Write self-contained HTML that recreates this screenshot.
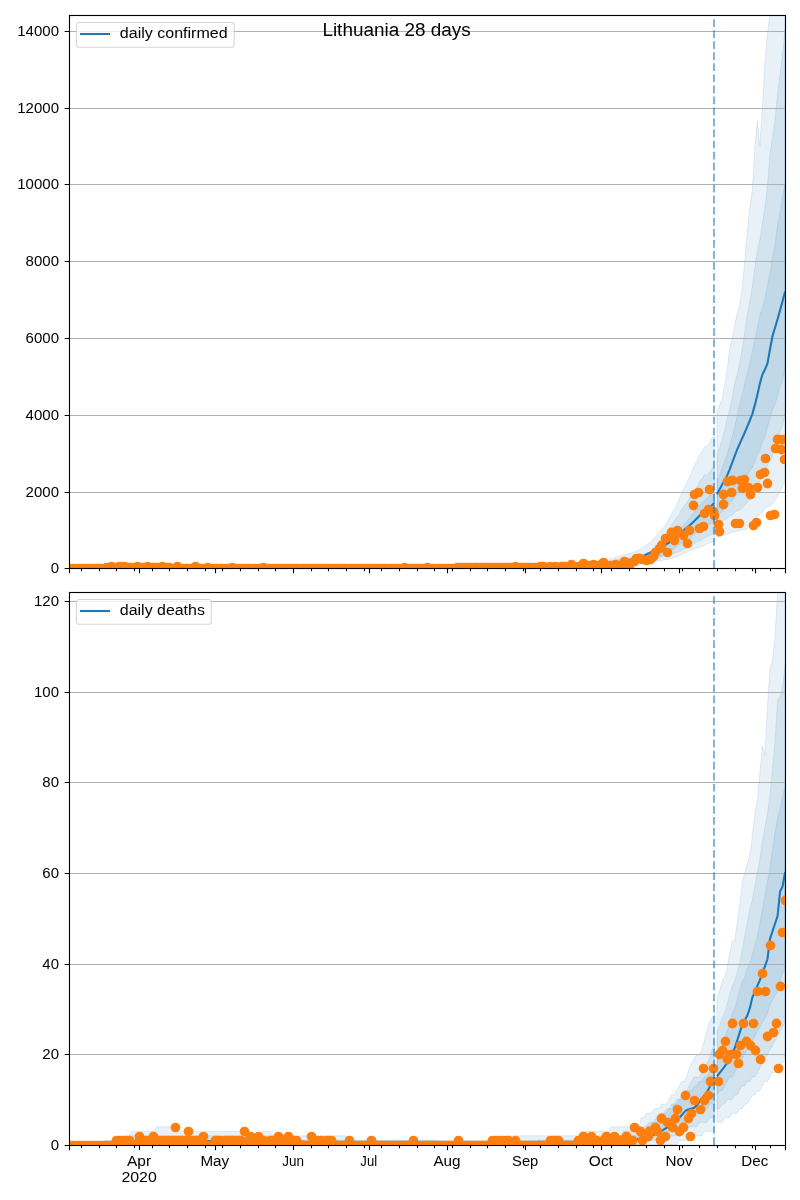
<!DOCTYPE html><html><head><meta charset="utf-8"><style>html,body{margin:0;padding:0;background:#fff;width:800px;height:1200px;overflow:hidden}svg{display:block;will-change:transform}text{font-family:"Liberation Sans",sans-serif;fill:#000}</style></head><body>
<svg width="800" height="1200" viewBox="0 0 800 1200">
<rect width="800" height="1200" fill="#fff"/>
<clipPath id="ct"><rect x="69.5" y="15.5" width="716.0" height="553.0"/></clipPath>
<g clip-path="url(#ct)">
<path d="M68.5,568.36 L70.96,568.36 L73.49,568.36 L76.01,568.36 L78.53,568.36 L81.06,568.36 L83.58,568.36 L86.1,568.36 L88.63,568.36 L91.15,568.36 L93.68,568.36 L96.2,568.36 L98.72,568.36 L101.25,568.36 L103.77,568.36 L106.29,568.36 L108.82,568.36 L111.34,568.36 L113.86,568.36 L116.39,568.36 L118.91,568.36 L121.43,568.36 L123.96,568.36 L126.48,568.36 L129,568.36 L131.53,568.36 L134.05,568.36 L136.57,568.36 L139.1,568.36 L141.62,568.36 L144.15,568.36 L146.67,568.36 L149.19,568.36 L151.72,568.36 L154.24,568.36 L156.76,568.36 L159.29,568.36 L161.81,568.36 L164.33,568.36 L166.86,568.36 L169.38,568.36 L171.9,568.36 L174.43,568.36 L176.95,568.36 L179.47,568.36 L182,568.36 L184.52,568.36 L187.04,568.36 L189.57,568.36 L192.09,568.36 L194.62,568.36 L197.14,568.36 L199.66,568.36 L202.19,568.36 L204.71,568.36 L207.23,568.36 L209.76,568.36 L212.28,568.36 L214.8,568.36 L217.33,568.36 L219.85,568.36 L222.37,568.36 L224.9,568.36 L227.42,568.36 L229.94,568.36 L232.47,568.36 L234.99,568.36 L237.51,568.36 L240.04,568.36 L242.56,568.36 L245.09,568.36 L247.61,568.36 L250.13,568.36 L252.66,568.36 L255.18,568.36 L257.7,568.36 L260.23,568.36 L262.75,568.36 L265.27,568.36 L267.8,568.36 L270.32,568.36 L272.84,568.36 L275.37,568.36 L277.89,568.36 L280.41,568.36 L282.94,568.36 L285.46,568.36 L287.98,568.36 L290.51,568.36 L293.03,568.36 L295.56,568.36 L298.08,568.36 L300.6,568.36 L303.13,568.36 L305.65,568.36 L308.17,568.36 L310.7,568.36 L313.22,568.36 L315.74,568.36 L318.27,568.36 L320.79,568.36 L323.31,568.36 L325.84,568.36 L328.36,568.36 L330.88,568.36 L333.41,568.36 L335.93,568.36 L338.45,568.36 L340.98,568.36 L343.5,568.36 L346.03,568.36 L348.55,568.36 L351.07,568.36 L353.6,568.36 L356.12,568.36 L358.64,568.36 L361.17,568.36 L363.69,568.36 L366.21,568.36 L368.74,568.36 L371.26,568.36 L373.78,568.36 L376.31,568.36 L378.83,568.36 L381.35,568.36 L383.88,568.36 L386.4,568.36 L388.92,568.36 L391.45,568.36 L393.97,568.36 L396.5,568.36 L399.02,568.36 L401.54,568.35 L404.07,568.35 L406.59,568.35 L409.11,568.34 L411.64,568.34 L414.16,568.34 L416.68,568.33 L419.21,568.33 L421.73,568.32 L424.25,568.32 L426.78,568.31 L429.3,568.31 L431.82,568.3 L434.35,568.29 L436.87,568.29 L439.39,568.28 L441.92,568.27 L444.44,568.26 L446.97,568.25 L449.49,568.24 L452.01,568.23 L454.54,568.22 L457.06,568.21 L459.58,568.2 L462.11,568.19 L464.63,568.17 L467.15,568.15 L469.68,568.13 L472.2,568.12 L474.72,568.1 L477.25,568.08 L479.77,568.06 L482.29,568.04 L484.82,568.01 L487.34,567.99 L489.86,567.95 L492.39,567.93 L494.91,567.9 L497.44,567.85 L499.96,567.83 L502.48,567.79 L505.01,567.74 L507.53,567.71 L510.05,567.64 L512.58,567.61 L515.1,567.56 L517.62,567.5 L520.15,567.44 L522.67,567.37 L525.19,567.31 L527.72,567.22 L530.24,567.18 L532.76,567.07 L535.29,566.98 L537.81,566.86 L540.34,566.81 L542.86,566.68 L545.38,566.57 L547.91,566.44 L550.43,566.29 L552.95,566.15 L555.48,565.98 L558,565.86 L560.52,565.67 L563.05,565.46 L565.57,565.27 L568.09,565.1 L570.62,564.83 L573.14,564.66 L575.66,564.31 L578.19,564.1 L580.71,563.82 L583.23,563.5 L585.76,563.14 L588.28,562.74 L590.8,562.46 L593.33,562.07 L595.85,561.59 L598.38,561.23 L600.9,560.8 L603.42,560.11 L605.95,559.64 L608.47,558.93 L610.99,558.52 L613.52,558.13 L616.04,557.23 L618.56,556.6 L621.09,555.76 L623.61,555.17 L626.13,554.44 L628.66,553.61 L631.18,552.96 L633.7,552.09 L636.23,551.46 L638.75,550.27 L641.27,549.17 L643.8,547.27 L646.32,545.03 L648.85,542.76 L651.37,540.98 L653.89,537.9 L656.42,536.12 L658.94,533 L661.46,530.03 L663.99,527.11 L666.51,523.48 L669.03,518.57 L671.56,514.34 L674.08,509.54 L676.6,505.35 L679.13,499.26 L681.65,492.72 L684.17,487.67 L686.7,483.22 L689.22,477.77 L691.75,471.94 L694.27,465.68 L696.79,461.03 L699.32,455.22 L701.84,452.24 L704.36,447.37 L706.89,445.95 L709.41,442.93 L711.93,437.73 L714.46,436.76 L714.46,540.53 L711.93,541.76 L709.41,543.06 L706.89,544.01 L704.36,545.37 L701.84,546.51 L699.32,547.44 L696.79,548.14 L694.27,549.02 L691.75,549.64 L689.22,550.78 L686.7,552.23 L684.17,553.42 L681.65,554.6 L679.13,555.63 L676.6,556.58 L674.08,557.13 L671.56,558.26 L669.03,559.04 L666.51,559.54 L663.99,560.07 L661.46,560.59 L658.94,560.89 L656.42,561.39 L653.89,561.68 L651.37,562.16 L648.85,562.58 L646.32,562.83 L643.8,563.19 L641.27,563.48 L638.75,563.77 L636.23,564.03 L633.7,564.3 L631.18,564.5 L628.66,564.72 L626.13,564.96 L623.61,565.2 L621.09,565.38 L618.56,565.54 L616.04,565.68 L613.52,565.89 L610.99,566.06 L608.47,566.21 L605.95,566.34 L603.42,566.5 L600.9,566.61 L598.38,566.73 L595.85,566.84 L593.33,566.95 L590.8,567.04 L588.28,567.13 L585.76,567.22 L583.23,567.31 L580.71,567.38 L578.19,567.45 L575.66,567.5 L573.14,567.57 L570.62,567.62 L568.09,567.69 L565.57,567.73 L563.05,567.77 L560.52,567.82 L558,567.86 L555.48,567.9 L552.95,567.93 L550.43,567.96 L547.91,567.99 L545.38,568.02 L542.86,568.04 L540.34,568.07 L537.81,568.09 L535.29,568.11 L532.76,568.13 L530.24,568.15 L527.72,568.16 L525.19,568.18 L522.67,568.19 L520.15,568.21 L517.62,568.22 L515.1,568.23 L512.58,568.24 L510.05,568.26 L507.53,568.26 L505.01,568.27 L502.48,568.28 L499.96,568.29 L497.44,568.3 L494.91,568.3 L492.39,568.31 L489.86,568.32 L487.34,568.32 L484.82,568.33 L482.29,568.33 L479.77,568.34 L477.25,568.34 L474.72,568.35 L472.2,568.35 L469.68,568.35 L467.15,568.36 L464.63,568.36 L462.11,568.36 L459.58,568.36 L457.06,568.36 L454.54,568.36 L452.01,568.36 L449.49,568.36 L446.97,568.36 L444.44,568.36 L441.92,568.36 L439.39,568.36 L436.87,568.36 L434.35,568.36 L431.82,568.36 L429.3,568.36 L426.78,568.36 L424.25,568.36 L421.73,568.36 L419.21,568.36 L416.68,568.36 L414.16,568.36 L411.64,568.36 L409.11,568.36 L406.59,568.36 L404.07,568.36 L401.54,568.36 L399.02,568.36 L396.5,568.36 L393.97,568.36 L391.45,568.36 L388.92,568.36 L386.4,568.36 L383.88,568.36 L381.35,568.36 L378.83,568.36 L376.31,568.36 L373.78,568.36 L371.26,568.36 L368.74,568.36 L366.21,568.36 L363.69,568.36 L361.17,568.36 L358.64,568.36 L356.12,568.36 L353.6,568.36 L351.07,568.36 L348.55,568.36 L346.03,568.36 L343.5,568.36 L340.98,568.36 L338.45,568.36 L335.93,568.36 L333.41,568.36 L330.88,568.36 L328.36,568.36 L325.84,568.36 L323.31,568.36 L320.79,568.36 L318.27,568.36 L315.74,568.36 L313.22,568.36 L310.7,568.36 L308.17,568.36 L305.65,568.36 L303.13,568.36 L300.6,568.36 L298.08,568.36 L295.56,568.36 L293.03,568.36 L290.51,568.36 L287.98,568.36 L285.46,568.36 L282.94,568.36 L280.41,568.36 L277.89,568.36 L275.37,568.36 L272.84,568.36 L270.32,568.36 L267.8,568.36 L265.27,568.36 L262.75,568.36 L260.23,568.36 L257.7,568.36 L255.18,568.36 L252.66,568.36 L250.13,568.36 L247.61,568.36 L245.09,568.36 L242.56,568.36 L240.04,568.36 L237.51,568.36 L234.99,568.36 L232.47,568.36 L229.94,568.36 L227.42,568.36 L224.9,568.36 L222.37,568.36 L219.85,568.36 L217.33,568.36 L214.8,568.36 L212.28,568.36 L209.76,568.36 L207.23,568.36 L204.71,568.36 L202.19,568.36 L199.66,568.36 L197.14,568.36 L194.62,568.36 L192.09,568.36 L189.57,568.36 L187.04,568.36 L184.52,568.36 L182,568.36 L179.47,568.36 L176.95,568.36 L174.43,568.36 L171.9,568.36 L169.38,568.36 L166.86,568.36 L164.33,568.36 L161.81,568.36 L159.29,568.36 L156.76,568.36 L154.24,568.36 L151.72,568.36 L149.19,568.36 L146.67,568.36 L144.15,568.36 L141.62,568.36 L139.1,568.36 L136.57,568.36 L134.05,568.36 L131.53,568.36 L129,568.36 L126.48,568.36 L123.96,568.36 L121.43,568.36 L118.91,568.36 L116.39,568.36 L113.86,568.36 L111.34,568.36 L108.82,568.36 L106.29,568.36 L103.77,568.36 L101.25,568.36 L98.72,568.36 L96.2,568.36 L93.68,568.36 L91.15,568.36 L88.63,568.36 L86.1,568.36 L83.58,568.36 L81.06,568.36 L78.53,568.36 L76.01,568.36 L73.49,568.36 L70.96,568.36 L68.5,568.36 Z" fill="rgba(31,119,180,0.1)" stroke="rgba(31,119,180,0.12)" stroke-width="1"/>
<path d="M68.5,568.36 L70.96,568.36 L73.49,568.36 L76.01,568.36 L78.53,568.36 L81.06,568.36 L83.58,568.36 L86.1,568.36 L88.63,568.36 L91.15,568.36 L93.68,568.36 L96.2,568.36 L98.72,568.36 L101.25,568.36 L103.77,568.36 L106.29,568.36 L108.82,568.36 L111.34,568.36 L113.86,568.36 L116.39,568.36 L118.91,568.36 L121.43,568.36 L123.96,568.36 L126.48,568.36 L129,568.36 L131.53,568.36 L134.05,568.36 L136.57,568.36 L139.1,568.36 L141.62,568.36 L144.15,568.36 L146.67,568.36 L149.19,568.36 L151.72,568.36 L154.24,568.36 L156.76,568.36 L159.29,568.36 L161.81,568.36 L164.33,568.36 L166.86,568.36 L169.38,568.36 L171.9,568.36 L174.43,568.36 L176.95,568.36 L179.47,568.36 L182,568.36 L184.52,568.36 L187.04,568.36 L189.57,568.36 L192.09,568.36 L194.62,568.36 L197.14,568.36 L199.66,568.36 L202.19,568.36 L204.71,568.36 L207.23,568.36 L209.76,568.36 L212.28,568.36 L214.8,568.36 L217.33,568.36 L219.85,568.36 L222.37,568.36 L224.9,568.36 L227.42,568.36 L229.94,568.36 L232.47,568.36 L234.99,568.36 L237.51,568.36 L240.04,568.36 L242.56,568.36 L245.09,568.36 L247.61,568.36 L250.13,568.36 L252.66,568.36 L255.18,568.36 L257.7,568.36 L260.23,568.36 L262.75,568.36 L265.27,568.36 L267.8,568.36 L270.32,568.36 L272.84,568.36 L275.37,568.36 L277.89,568.36 L280.41,568.36 L282.94,568.36 L285.46,568.36 L287.98,568.36 L290.51,568.36 L293.03,568.36 L295.56,568.36 L298.08,568.36 L300.6,568.36 L303.13,568.36 L305.65,568.36 L308.17,568.36 L310.7,568.36 L313.22,568.36 L315.74,568.36 L318.27,568.36 L320.79,568.36 L323.31,568.36 L325.84,568.36 L328.36,568.36 L330.88,568.36 L333.41,568.36 L335.93,568.36 L338.45,568.36 L340.98,568.36 L343.5,568.36 L346.03,568.36 L348.55,568.36 L351.07,568.36 L353.6,568.36 L356.12,568.36 L358.64,568.36 L361.17,568.36 L363.69,568.36 L366.21,568.36 L368.74,568.36 L371.26,568.36 L373.78,568.36 L376.31,568.36 L378.83,568.36 L381.35,568.36 L383.88,568.36 L386.4,568.36 L388.92,568.36 L391.45,568.36 L393.97,568.36 L396.5,568.36 L399.02,568.36 L401.54,568.36 L404.07,568.36 L406.59,568.36 L409.11,568.36 L411.64,568.35 L414.16,568.35 L416.68,568.35 L419.21,568.34 L421.73,568.34 L424.25,568.34 L426.78,568.33 L429.3,568.33 L431.82,568.32 L434.35,568.32 L436.87,568.31 L439.39,568.31 L441.92,568.3 L444.44,568.29 L446.97,568.28 L449.49,568.28 L452.01,568.27 L454.54,568.26 L457.06,568.25 L459.58,568.24 L462.11,568.23 L464.63,568.22 L467.15,568.21 L469.68,568.2 L472.2,568.18 L474.72,568.17 L477.25,568.15 L479.77,568.13 L482.29,568.12 L484.82,568.1 L487.34,568.08 L489.86,568.05 L492.39,568.03 L494.91,568 L497.44,567.98 L499.96,567.95 L502.48,567.92 L505.01,567.88 L507.53,567.85 L510.05,567.83 L512.58,567.77 L515.1,567.74 L517.62,567.69 L520.15,567.64 L522.67,567.6 L525.19,567.54 L527.72,567.49 L530.24,567.43 L532.76,567.35 L535.29,567.28 L537.81,567.21 L540.34,567.13 L542.86,567.05 L545.38,566.94 L547.91,566.85 L550.43,566.74 L552.95,566.63 L555.48,566.48 L558,566.42 L560.52,566.26 L563.05,566.1 L565.57,565.94 L568.09,565.83 L570.62,565.65 L573.14,565.43 L575.66,565.2 L578.19,564.99 L580.71,564.84 L583.23,564.55 L585.76,564.25 L588.28,564.01 L590.8,563.76 L593.33,563.44 L595.85,563.13 L598.38,562.65 L600.9,562.34 L603.42,561.94 L605.95,561.53 L608.47,561.02 L610.99,560.64 L613.52,560.28 L616.04,559.82 L618.56,559.43 L621.09,558.94 L623.61,558.52 L626.13,557.96 L628.66,557.58 L631.18,557.04 L633.7,556.5 L636.23,556.05 L638.75,555.23 L641.27,554.82 L643.8,554.31 L646.32,553.26 L648.85,552.62 L651.37,551.25 L653.89,548.49 L656.42,545.6 L658.94,542.36 L661.46,539.1 L663.99,535.66 L666.51,532.81 L669.03,529.14 L671.56,525.22 L674.08,521.43 L676.6,517.46 L679.13,514.43 L681.65,509.83 L684.17,505.89 L686.7,502.56 L689.22,498.43 L691.75,494.2 L694.27,489.77 L696.79,487.23 L699.32,481.98 L701.84,479.01 L704.36,474.91 L706.89,474.98 L709.41,472.58 L711.93,468.33 L714.46,467.34 L714.46,532.71 L711.93,533.68 L709.41,535.62 L706.89,536.67 L704.36,538.06 L701.84,539.61 L699.32,540.88 L696.79,541.56 L694.27,543.58 L691.75,545.1 L689.22,546.9 L686.7,547.86 L684.17,548.82 L681.65,550.21 L679.13,551.24 L676.6,552.34 L674.08,553.15 L671.56,554.29 L669.03,555.21 L666.51,555.93 L663.99,556.59 L661.46,557.37 L658.94,557.97 L656.42,558.68 L653.89,559.21 L651.37,559.88 L648.85,560.28 L646.32,560.8 L643.8,561.22 L641.27,561.7 L638.75,562.11 L636.23,562.43 L633.7,562.97 L631.18,563.14 L628.66,563.55 L626.13,563.78 L623.61,563.97 L621.09,564.4 L618.56,564.6 L616.04,564.85 L613.52,565.07 L610.99,565.23 L608.47,565.49 L605.95,565.6 L603.42,565.76 L600.9,565.97 L598.38,566.11 L595.85,566.29 L593.33,566.4 L590.8,566.52 L588.28,566.65 L585.76,566.75 L583.23,566.87 L580.71,566.94 L578.19,567.03 L575.66,567.12 L573.14,567.23 L570.62,567.31 L568.09,567.36 L565.57,567.41 L563.05,567.48 L560.52,567.54 L558,567.6 L555.48,567.65 L552.95,567.69 L550.43,567.73 L547.91,567.78 L545.38,567.82 L542.86,567.85 L540.34,567.89 L537.81,567.92 L535.29,567.95 L532.76,567.98 L530.24,568.01 L527.72,568.03 L525.19,568.06 L522.67,568.07 L520.15,568.1 L517.62,568.11 L515.1,568.13 L512.58,568.15 L510.05,568.17 L507.53,568.18 L505.01,568.19 L502.48,568.21 L499.96,568.22 L497.44,568.23 L494.91,568.24 L492.39,568.25 L489.86,568.26 L487.34,568.27 L484.82,568.28 L482.29,568.29 L479.77,568.29 L477.25,568.3 L474.72,568.31 L472.2,568.31 L469.68,568.32 L467.15,568.32 L464.63,568.33 L462.11,568.33 L459.58,568.34 L457.06,568.34 L454.54,568.34 L452.01,568.35 L449.49,568.35 L446.97,568.35 L444.44,568.36 L441.92,568.36 L439.39,568.36 L436.87,568.36 L434.35,568.36 L431.82,568.36 L429.3,568.36 L426.78,568.36 L424.25,568.36 L421.73,568.36 L419.21,568.36 L416.68,568.36 L414.16,568.36 L411.64,568.36 L409.11,568.36 L406.59,568.36 L404.07,568.36 L401.54,568.36 L399.02,568.36 L396.5,568.36 L393.97,568.36 L391.45,568.36 L388.92,568.36 L386.4,568.36 L383.88,568.36 L381.35,568.36 L378.83,568.36 L376.31,568.36 L373.78,568.36 L371.26,568.36 L368.74,568.36 L366.21,568.36 L363.69,568.36 L361.17,568.36 L358.64,568.36 L356.12,568.36 L353.6,568.36 L351.07,568.36 L348.55,568.36 L346.03,568.36 L343.5,568.36 L340.98,568.36 L338.45,568.36 L335.93,568.36 L333.41,568.36 L330.88,568.36 L328.36,568.36 L325.84,568.36 L323.31,568.36 L320.79,568.36 L318.27,568.36 L315.74,568.36 L313.22,568.36 L310.7,568.36 L308.17,568.36 L305.65,568.36 L303.13,568.36 L300.6,568.36 L298.08,568.36 L295.56,568.36 L293.03,568.36 L290.51,568.36 L287.98,568.36 L285.46,568.36 L282.94,568.36 L280.41,568.36 L277.89,568.36 L275.37,568.36 L272.84,568.36 L270.32,568.36 L267.8,568.36 L265.27,568.36 L262.75,568.36 L260.23,568.36 L257.7,568.36 L255.18,568.36 L252.66,568.36 L250.13,568.36 L247.61,568.36 L245.09,568.36 L242.56,568.36 L240.04,568.36 L237.51,568.36 L234.99,568.36 L232.47,568.36 L229.94,568.36 L227.42,568.36 L224.9,568.36 L222.37,568.36 L219.85,568.36 L217.33,568.36 L214.8,568.36 L212.28,568.36 L209.76,568.36 L207.23,568.36 L204.71,568.36 L202.19,568.36 L199.66,568.36 L197.14,568.36 L194.62,568.36 L192.09,568.36 L189.57,568.36 L187.04,568.36 L184.52,568.36 L182,568.36 L179.47,568.36 L176.95,568.36 L174.43,568.36 L171.9,568.36 L169.38,568.36 L166.86,568.36 L164.33,568.36 L161.81,568.36 L159.29,568.36 L156.76,568.36 L154.24,568.36 L151.72,568.36 L149.19,568.36 L146.67,568.36 L144.15,568.36 L141.62,568.36 L139.1,568.36 L136.57,568.36 L134.05,568.36 L131.53,568.36 L129,568.36 L126.48,568.36 L123.96,568.36 L121.43,568.36 L118.91,568.36 L116.39,568.36 L113.86,568.36 L111.34,568.36 L108.82,568.36 L106.29,568.36 L103.77,568.36 L101.25,568.36 L98.72,568.36 L96.2,568.36 L93.68,568.36 L91.15,568.36 L88.63,568.36 L86.1,568.36 L83.58,568.36 L81.06,568.36 L78.53,568.36 L76.01,568.36 L73.49,568.36 L70.96,568.36 L68.5,568.36 Z" fill="rgba(31,119,180,0.1)" stroke="rgba(31,119,180,0.12)" stroke-width="1"/>
<path d="M68.5,568.36 L70.96,568.36 L73.49,568.36 L76.01,568.36 L78.53,568.36 L81.06,568.36 L83.58,568.36 L86.1,568.36 L88.63,568.36 L91.15,568.36 L93.68,568.36 L96.2,568.36 L98.72,568.36 L101.25,568.36 L103.77,568.36 L106.29,568.36 L108.82,568.36 L111.34,568.36 L113.86,568.36 L116.39,568.36 L118.91,568.36 L121.43,568.36 L123.96,568.36 L126.48,568.36 L129,568.36 L131.53,568.36 L134.05,568.36 L136.57,568.36 L139.1,568.36 L141.62,568.36 L144.15,568.36 L146.67,568.36 L149.19,568.36 L151.72,568.36 L154.24,568.36 L156.76,568.36 L159.29,568.36 L161.81,568.36 L164.33,568.36 L166.86,568.36 L169.38,568.36 L171.9,568.36 L174.43,568.36 L176.95,568.36 L179.47,568.36 L182,568.36 L184.52,568.36 L187.04,568.36 L189.57,568.36 L192.09,568.36 L194.62,568.36 L197.14,568.36 L199.66,568.36 L202.19,568.36 L204.71,568.36 L207.23,568.36 L209.76,568.36 L212.28,568.36 L214.8,568.36 L217.33,568.36 L219.85,568.36 L222.37,568.36 L224.9,568.36 L227.42,568.36 L229.94,568.36 L232.47,568.36 L234.99,568.36 L237.51,568.36 L240.04,568.36 L242.56,568.36 L245.09,568.36 L247.61,568.36 L250.13,568.36 L252.66,568.36 L255.18,568.36 L257.7,568.36 L260.23,568.36 L262.75,568.36 L265.27,568.36 L267.8,568.36 L270.32,568.36 L272.84,568.36 L275.37,568.36 L277.89,568.36 L280.41,568.36 L282.94,568.36 L285.46,568.36 L287.98,568.36 L290.51,568.36 L293.03,568.36 L295.56,568.36 L298.08,568.36 L300.6,568.36 L303.13,568.36 L305.65,568.36 L308.17,568.36 L310.7,568.36 L313.22,568.36 L315.74,568.36 L318.27,568.36 L320.79,568.36 L323.31,568.36 L325.84,568.36 L328.36,568.36 L330.88,568.36 L333.41,568.36 L335.93,568.36 L338.45,568.36 L340.98,568.36 L343.5,568.36 L346.03,568.36 L348.55,568.36 L351.07,568.36 L353.6,568.36 L356.12,568.36 L358.64,568.36 L361.17,568.36 L363.69,568.36 L366.21,568.36 L368.74,568.36 L371.26,568.36 L373.78,568.36 L376.31,568.36 L378.83,568.36 L381.35,568.36 L383.88,568.36 L386.4,568.36 L388.92,568.36 L391.45,568.36 L393.97,568.36 L396.5,568.36 L399.02,568.36 L401.54,568.36 L404.07,568.36 L406.59,568.36 L409.11,568.36 L411.64,568.36 L414.16,568.36 L416.68,568.36 L419.21,568.36 L421.73,568.36 L424.25,568.35 L426.78,568.35 L429.3,568.35 L431.82,568.34 L434.35,568.34 L436.87,568.33 L439.39,568.33 L441.92,568.32 L444.44,568.32 L446.97,568.31 L449.49,568.31 L452.01,568.3 L454.54,568.3 L457.06,568.29 L459.58,568.28 L462.11,568.27 L464.63,568.26 L467.15,568.25 L469.68,568.24 L472.2,568.23 L474.72,568.22 L477.25,568.21 L479.77,568.19 L482.29,568.18 L484.82,568.16 L487.34,568.15 L489.86,568.13 L492.39,568.11 L494.91,568.09 L497.44,568.07 L499.96,568.05 L502.48,568.03 L505.01,568 L507.53,567.98 L510.05,567.94 L512.58,567.91 L515.1,567.88 L517.62,567.84 L520.15,567.8 L522.67,567.75 L525.19,567.72 L527.72,567.66 L530.24,567.61 L532.76,567.56 L535.29,567.5 L537.81,567.43 L540.34,567.36 L542.86,567.29 L545.38,567.22 L547.91,567.16 L550.43,567.05 L552.95,566.97 L555.48,566.86 L558,566.74 L560.52,566.66 L563.05,566.5 L565.57,566.35 L568.09,566.25 L570.62,566.12 L573.14,565.92 L575.66,565.78 L578.19,565.57 L580.71,565.37 L583.23,565.24 L585.76,564.96 L588.28,564.79 L590.8,564.51 L593.33,564.19 L595.85,563.97 L598.38,563.64 L600.9,563.3 L603.42,562.91 L605.95,562.52 L608.47,562.11 L610.99,561.79 L613.52,561.5 L616.04,561.1 L618.56,560.85 L621.09,560.5 L623.61,560.02 L626.13,559.75 L628.66,559.36 L631.18,558.77 L633.7,558.43 L636.23,558.17 L638.75,557.55 L641.27,556.77 L643.8,556.14 L646.32,555.93 L648.85,555.23 L651.37,554.62 L653.89,554.04 L656.42,553.44 L658.94,551.32 L661.46,549.52 L663.99,547.48 L666.51,545.42 L669.03,542.6 L671.56,539.54 L674.08,536.59 L676.6,533.77 L679.13,531.06 L681.65,527.41 L684.17,524.12 L686.7,521.84 L689.22,518.76 L691.75,515.25 L694.27,512.52 L696.79,508.08 L699.32,505.7 L701.84,503.01 L704.36,500.45 L706.89,499.12 L709.41,495.08 L711.93,493.47 L714.46,491.13 L714.46,520.77 L711.93,522.89 L709.41,523.92 L706.89,525.93 L704.36,527.7 L701.84,529.73 L699.32,531.38 L696.79,532.6 L694.27,534.2 L691.75,536.33 L689.22,538.54 L686.7,539.53 L684.17,541.28 L681.65,543.22 L679.13,544.69 L676.6,546.45 L674.08,548.4 L671.56,550.27 L669.03,551.81 L666.51,553.38 L663.99,554.81 L661.46,555.94 L658.94,556.76 L656.42,557.18 L653.89,557.66 L651.37,558.47 L648.85,558.84 L646.32,559.37 L643.8,559.83 L641.27,560.27 L638.75,560.73 L636.23,561.23 L633.7,561.43 L631.18,561.81 L628.66,562.12 L626.13,562.54 L623.61,562.83 L621.09,563.09 L618.56,563.43 L616.04,563.63 L613.52,563.87 L610.99,564.1 L608.47,564.38 L605.95,564.54 L603.42,564.86 L600.9,565.03 L598.38,565.24 L595.85,565.53 L593.33,565.65 L590.8,565.82 L588.28,565.96 L585.76,566.15 L583.23,566.3 L580.71,566.43 L578.19,566.55 L575.66,566.66 L573.14,566.78 L570.62,566.87 L568.09,566.97 L565.57,567.06 L563.05,567.16 L560.52,567.22 L558,567.3 L555.48,567.39 L552.95,567.46 L550.43,567.49 L547.91,567.56 L545.38,567.6 L542.86,567.66 L540.34,567.71 L537.81,567.74 L535.29,567.79 L532.76,567.84 L530.24,567.87 L527.72,567.9 L525.19,567.93 L522.67,567.97 L520.15,568 L517.62,568.02 L515.1,568.04 L512.58,568.06 L510.05,568.09 L507.53,568.11 L505.01,568.13 L502.48,568.14 L499.96,568.16 L497.44,568.18 L494.91,568.19 L492.39,568.2 L489.86,568.21 L487.34,568.23 L484.82,568.24 L482.29,568.25 L479.77,568.26 L477.25,568.27 L474.72,568.27 L472.2,568.28 L469.68,568.29 L467.15,568.29 L464.63,568.3 L462.11,568.31 L459.58,568.31 L457.06,568.32 L454.54,568.32 L452.01,568.33 L449.49,568.33 L446.97,568.34 L444.44,568.34 L441.92,568.35 L439.39,568.35 L436.87,568.35 L434.35,568.36 L431.82,568.36 L429.3,568.36 L426.78,568.36 L424.25,568.36 L421.73,568.36 L419.21,568.36 L416.68,568.36 L414.16,568.36 L411.64,568.36 L409.11,568.36 L406.59,568.36 L404.07,568.36 L401.54,568.36 L399.02,568.36 L396.5,568.36 L393.97,568.36 L391.45,568.36 L388.92,568.36 L386.4,568.36 L383.88,568.36 L381.35,568.36 L378.83,568.36 L376.31,568.36 L373.78,568.36 L371.26,568.36 L368.74,568.36 L366.21,568.36 L363.69,568.36 L361.17,568.36 L358.64,568.36 L356.12,568.36 L353.6,568.36 L351.07,568.36 L348.55,568.36 L346.03,568.36 L343.5,568.36 L340.98,568.36 L338.45,568.36 L335.93,568.36 L333.41,568.36 L330.88,568.36 L328.36,568.36 L325.84,568.36 L323.31,568.36 L320.79,568.36 L318.27,568.36 L315.74,568.36 L313.22,568.36 L310.7,568.36 L308.17,568.36 L305.65,568.36 L303.13,568.36 L300.6,568.36 L298.08,568.36 L295.56,568.36 L293.03,568.36 L290.51,568.36 L287.98,568.36 L285.46,568.36 L282.94,568.36 L280.41,568.36 L277.89,568.36 L275.37,568.36 L272.84,568.36 L270.32,568.36 L267.8,568.36 L265.27,568.36 L262.75,568.36 L260.23,568.36 L257.7,568.36 L255.18,568.36 L252.66,568.36 L250.13,568.36 L247.61,568.36 L245.09,568.36 L242.56,568.36 L240.04,568.36 L237.51,568.36 L234.99,568.36 L232.47,568.36 L229.94,568.36 L227.42,568.36 L224.9,568.36 L222.37,568.36 L219.85,568.36 L217.33,568.36 L214.8,568.36 L212.28,568.36 L209.76,568.36 L207.23,568.36 L204.71,568.36 L202.19,568.36 L199.66,568.36 L197.14,568.36 L194.62,568.36 L192.09,568.36 L189.57,568.36 L187.04,568.36 L184.52,568.36 L182,568.36 L179.47,568.36 L176.95,568.36 L174.43,568.36 L171.9,568.36 L169.38,568.36 L166.86,568.36 L164.33,568.36 L161.81,568.36 L159.29,568.36 L156.76,568.36 L154.24,568.36 L151.72,568.36 L149.19,568.36 L146.67,568.36 L144.15,568.36 L141.62,568.36 L139.1,568.36 L136.57,568.36 L134.05,568.36 L131.53,568.36 L129,568.36 L126.48,568.36 L123.96,568.36 L121.43,568.36 L118.91,568.36 L116.39,568.36 L113.86,568.36 L111.34,568.36 L108.82,568.36 L106.29,568.36 L103.77,568.36 L101.25,568.36 L98.72,568.36 L96.2,568.36 L93.68,568.36 L91.15,568.36 L88.63,568.36 L86.1,568.36 L83.58,568.36 L81.06,568.36 L78.53,568.36 L76.01,568.36 L73.49,568.36 L70.96,568.36 L68.5,568.36 Z" fill="rgba(31,119,180,0.1)" stroke="rgba(31,119,180,0.12)" stroke-width="1"/>
<path d="M716.98,412.25 L719.5,405.06 L722.03,399.1 L724.55,385.5 L727.07,369.91 L729.6,350.1 L732.12,337.77 L734.64,326.1 L737.17,313.21 L739.69,304.99 L742.22,287.55 L744.74,261.36 L747.26,231.02 L749.79,207.73 L752.31,190.62 L754.83,147.65 L757.36,121.21 L759.88,146.63 L762.4,107.26 L764.93,61.63 L767.45,32.84 L769.97,15.43 L772.5,-16.76 L775.02,-41.13 L777.54,-77.23 L780.07,-116.98 L782.59,-151.64 L785.11,-186.42 L785.11,481.89 L782.59,485.38 L780.07,491.81 L777.54,496.26 L775.02,500.49 L772.5,504 L769.97,506.1 L767.45,506.86 L764.93,508.31 L762.4,512.28 L759.88,514.5 L757.36,516.56 L754.83,519.3 L752.31,522.71 L749.79,525.41 L747.26,528.74 L744.74,529.28 L742.22,529.73 L739.69,530.72 L737.17,530.76 L734.64,531.81 L732.12,532.16 L729.6,533.86 L727.07,533.82 L724.55,535.08 L722.03,534.91 L719.5,536.69 L716.98,537.88 Z" fill="rgba(31,119,180,0.1)" stroke="rgba(31,119,180,0.12)" stroke-width="1"/>
<path d="M716.98,457.63 L719.5,447.85 L722.03,439.74 L724.55,430.73 L727.07,418.9 L729.6,409.39 L732.12,398.57 L734.64,383.56 L737.17,374.93 L739.69,363.15 L742.22,349.31 L744.74,332.56 L747.26,314.65 L749.79,301.96 L752.31,286.24 L754.83,267.33 L757.36,251.5 L759.88,240.32 L762.4,223.36 L764.93,207.94 L767.45,186.11 L769.97,153.85 L772.5,137.2 L775.02,121.31 L777.54,92.98 L780.07,74.03 L782.59,55.01 L785.11,28.41 L785.11,413.63 L782.59,424.82 L780.07,431.82 L777.54,440.43 L775.02,448.49 L772.5,455.29 L769.97,460.9 L767.45,465.77 L764.93,473.36 L762.4,476.86 L759.88,480.47 L757.36,486.74 L754.83,492.72 L752.31,494.75 L749.79,499.58 L747.26,502.76 L744.74,505.37 L742.22,507.72 L739.69,509.42 L737.17,510.82 L734.64,512.31 L732.12,514.76 L729.6,516 L727.07,518.54 L724.55,519.29 L722.03,521.48 L719.5,522.25 L716.98,524.37 Z" fill="rgba(31,119,180,0.1)" stroke="rgba(31,119,180,0.12)" stroke-width="1"/>
<path d="M716.98,479.62 L719.5,476.02 L722.03,468.09 L724.55,461.47 L727.07,454.44 L729.6,445.91 L732.12,437.07 L734.64,427.12 L737.17,416.3 L739.69,404.48 L742.22,395 L744.74,383.36 L747.26,373.69 L749.79,362.88 L752.31,351.47 L754.83,340.3 L757.36,328.2 L759.88,314.81 L762.4,307.98 L764.93,299.54 L767.45,285.13 L769.97,273.97 L772.5,257.85 L775.02,245.21 L777.54,224.4 L780.07,212.61 L782.59,196.48 L785.11,183.96 L785.11,367.87 L782.59,380.37 L780.07,385.43 L777.54,395.95 L775.02,404.08 L772.5,409.2 L769.97,419.08 L767.45,426.94 L764.93,436.52 L762.4,442.12 L759.88,450.41 L757.36,454.37 L754.83,461.57 L752.31,467.39 L749.79,471.57 L747.26,475.85 L744.74,482.8 L742.22,486.14 L739.69,491.34 L737.17,494.07 L734.64,496.89 L732.12,500.75 L729.6,502.93 L727.07,505.19 L724.55,508.91 L722.03,511.04 L719.5,514.07 L716.98,515.66 Z" fill="rgba(31,119,180,0.1)" stroke="rgba(31,119,180,0.12)" stroke-width="1"/>
<line x1="69.5" y1="568.5" x2="785.5" y2="568.5" stroke="#b0b0b0" stroke-width="1.11"/>
<line x1="69.5" y1="492.5" x2="785.5" y2="492.5" stroke="#b0b0b0" stroke-width="1.11"/>
<line x1="69.5" y1="415.5" x2="785.5" y2="415.5" stroke="#b0b0b0" stroke-width="1.11"/>
<line x1="69.5" y1="338.5" x2="785.5" y2="338.5" stroke="#b0b0b0" stroke-width="1.11"/>
<line x1="69.5" y1="261.5" x2="785.5" y2="261.5" stroke="#b0b0b0" stroke-width="1.11"/>
<line x1="69.5" y1="184.5" x2="785.5" y2="184.5" stroke="#b0b0b0" stroke-width="1.11"/>
<line x1="69.5" y1="108.5" x2="785.5" y2="108.5" stroke="#b0b0b0" stroke-width="1.11"/>
<line x1="69.5" y1="31.5" x2="785.5" y2="31.5" stroke="#b0b0b0" stroke-width="1.11"/>
<path d="M68.5,568.36 L70.96,568.36 L73.49,568.36 L76.01,568.36 L78.53,568.36 L81.06,568.36 L83.58,568.36 L86.1,568.36 L88.63,568.36 L91.15,568.36 L93.68,568.36 L96.2,568.36 L98.72,568.36 L101.25,568.36 L103.77,568.36 L106.29,568.36 L108.82,568.36 L111.34,568.36 L113.86,568.36 L116.39,568.36 L118.91,568.36 L121.43,568.36 L123.96,568.36 L126.48,568.36 L129,568.36 L131.53,568.36 L134.05,568.36 L136.57,568.36 L139.1,568.36 L141.62,568.36 L144.15,568.36 L146.67,568.36 L149.19,568.36 L151.72,568.36 L154.24,568.36 L156.76,568.36 L159.29,568.36 L161.81,568.36 L164.33,568.36 L166.86,568.36 L169.38,568.36 L171.9,568.36 L174.43,568.36 L176.95,568.36 L179.47,568.36 L182,568.36 L184.52,568.36 L187.04,568.36 L189.57,568.36 L192.09,568.36 L194.62,568.36 L197.14,568.36 L199.66,568.36 L202.19,568.36 L204.71,568.36 L207.23,568.36 L209.76,568.36 L212.28,568.36 L214.8,568.36 L217.33,568.36 L219.85,568.36 L222.37,568.36 L224.9,568.36 L227.42,568.36 L229.94,568.36 L232.47,568.36 L234.99,568.36 L237.51,568.36 L240.04,568.36 L242.56,568.36 L245.09,568.36 L247.61,568.36 L250.13,568.36 L252.66,568.36 L255.18,568.36 L257.7,568.36 L260.23,568.36 L262.75,568.36 L265.27,568.36 L267.8,568.36 L270.32,568.36 L272.84,568.36 L275.37,568.36 L277.89,568.36 L280.41,568.36 L282.94,568.36 L285.46,568.36 L287.98,568.36 L290.51,568.36 L293.03,568.36 L295.56,568.36 L298.08,568.36 L300.6,568.36 L303.13,568.36 L305.65,568.36 L308.17,568.36 L310.7,568.36 L313.22,568.36 L315.74,568.36 L318.27,568.36 L320.79,568.36 L323.31,568.36 L325.84,568.36 L328.36,568.36 L330.88,568.36 L333.41,568.36 L335.93,568.36 L338.45,568.36 L340.98,568.36 L343.5,568.36 L346.03,568.36 L348.55,568.36 L351.07,568.36 L353.6,568.36 L356.12,568.36 L358.64,568.36 L361.17,568.36 L363.69,568.36 L366.21,568.36 L368.74,568.36 L371.26,568.36 L373.78,568.36 L376.31,568.36 L378.83,568.36 L381.35,568.36 L383.88,568.36 L386.4,568.35 L388.92,568.35 L391.45,568.35 L393.97,568.35 L396.5,568.34 L399.02,568.34 L401.54,568.34 L404.07,568.33 L406.59,568.33 L409.11,568.33 L411.64,568.32 L414.16,568.32 L416.68,568.32 L419.21,568.31 L421.73,568.31 L424.25,568.3 L426.78,568.3 L429.3,568.29 L431.82,568.29 L434.35,568.28 L436.87,568.27 L439.39,568.27 L441.92,568.26 L444.44,568.25 L446.97,568.24 L449.49,568.24 L452.01,568.23 L454.54,568.22 L457.06,568.21 L459.58,568.2 L462.11,568.19 L464.63,568.18 L467.15,568.17 L469.68,568.15 L472.2,568.14 L474.72,568.13 L477.25,568.11 L479.77,568.1 L482.29,568.08 L484.82,568.06 L487.34,568.05 L489.86,568.03 L492.39,568.01 L494.91,567.99 L497.44,567.97 L499.96,567.94 L502.48,567.92 L505.01,567.9 L507.53,567.87 L510.05,567.84 L512.58,567.81 L515.1,567.78 L517.62,567.75 L520.15,567.71 L522.67,567.68 L525.19,567.64 L527.72,567.6 L530.24,567.56 L532.76,567.51 L535.29,567.47 L537.81,567.42 L540.34,567.37 L542.86,567.31 L545.38,567.26 L547.91,567.2 L550.43,567.13 L552.95,567.07 L555.48,567 L558,566.92 L560.52,566.85 L563.05,566.77 L565.57,566.68 L568.09,566.59 L570.62,566.5 L573.14,566.4 L575.66,566.29 L578.19,566.18 L580.71,566.06 L583.23,565.94 L585.76,565.81 L588.28,565.68 L590.8,565.54 L593.33,565.39 L595.85,565.23 L598.38,565.06 L600.9,564.89 L603.42,564.7 L605.95,564.51 L608.47,564.3 L610.99,564.06 L613.52,563.75 L616.04,563.43 L618.56,563.08 L621.09,562.7 L623.61,562.3 L626.13,561.79 L628.66,561.13 L631.18,560.41 L633.7,559.61 L636.23,558.74 L638.75,557.78 L641.27,556.77 L643.8,555.71 L646.32,554.55 L648.85,553.29 L651.37,551.92 L653.89,550.42 L656.42,548.94 L658.94,547.87 L661.46,546.73 L663.99,545.53 L666.51,544.23 L669.03,542.57 L671.56,540.77 L674.08,538.87 L676.6,536.83 L679.13,534.64 L681.65,532.31 L684.17,529.9 L686.7,527.84 L689.22,525.69 L691.75,523.41 L694.27,521.02 L696.79,518.5 L699.32,515.93 L701.84,513.94 L704.36,511.87 L706.89,509.72 L709.41,507.49 L711.93,505.18 L714.46,502.77" fill="none" stroke="#1f77b4" stroke-width="2.08" stroke-linejoin="round"/>
<path d="M716.98,494.35 L719.5,489.59 L722.03,484.78 L724.55,480.35 L727.07,475.68 L729.6,469.55 L732.12,462.78 L734.64,456.15 L737.17,449.5 L739.69,443.9 L742.22,438.05 L744.74,432.45 L747.26,426.6 L749.79,420.48 L752.31,414.12 L754.83,405.13 L757.36,394.84 L759.88,383.61 L762.4,374.52 L764.93,369.49 L767.45,363.68 L769.97,349.49 L772.5,336.03 L775.02,327.75 L777.54,319.17 L780.07,310.25 L782.59,301.05 L785.11,291.53" fill="none" stroke="#1f77b4" stroke-width="2.08" stroke-linejoin="round"/>
<path d="M63.64,568.5a4.86,4.86 0 1,0 9.72,0a4.86,4.86 0 1,0 -9.72,0M66.64,568.5a4.86,4.86 0 1,0 9.72,0a4.86,4.86 0 1,0 -9.72,0M68.64,568.5a4.86,4.86 0 1,0 9.72,0a4.86,4.86 0 1,0 -9.72,0M71.64,568.5a4.86,4.86 0 1,0 9.72,0a4.86,4.86 0 1,0 -9.72,0M74.64,568.5a4.86,4.86 0 1,0 9.72,0a4.86,4.86 0 1,0 -9.72,0M76.64,568.5a4.86,4.86 0 1,0 9.72,0a4.86,4.86 0 1,0 -9.72,0M79.64,568.5a4.86,4.86 0 1,0 9.72,0a4.86,4.86 0 1,0 -9.72,0M81.64,568.5a4.86,4.86 0 1,0 9.72,0a4.86,4.86 0 1,0 -9.72,0M84.64,568.5a4.86,4.86 0 1,0 9.72,0a4.86,4.86 0 1,0 -9.72,0M86.64,568.5a4.86,4.86 0 1,0 9.72,0a4.86,4.86 0 1,0 -9.72,0M89.64,568.5a4.86,4.86 0 1,0 9.72,0a4.86,4.86 0 1,0 -9.72,0M91.64,568.5a4.86,4.86 0 1,0 9.72,0a4.86,4.86 0 1,0 -9.72,0M94.64,568.5a4.86,4.86 0 1,0 9.72,0a4.86,4.86 0 1,0 -9.72,0M96.64,568.5a4.86,4.86 0 1,0 9.72,0a4.86,4.86 0 1,0 -9.72,0M99.64,568.5a4.86,4.86 0 1,0 9.72,0a4.86,4.86 0 1,0 -9.72,0M101.64,567.5a4.86,4.86 0 1,0 9.72,0a4.86,4.86 0 1,0 -9.72,0M104.64,567.5a4.86,4.86 0 1,0 9.72,0a4.86,4.86 0 1,0 -9.72,0M106.64,566.5a4.86,4.86 0 1,0 9.72,0a4.86,4.86 0 1,0 -9.72,0M109.64,567.5a4.86,4.86 0 1,0 9.72,0a4.86,4.86 0 1,0 -9.72,0M111.64,567.5a4.86,4.86 0 1,0 9.72,0a4.86,4.86 0 1,0 -9.72,0M114.64,566.5a4.86,4.86 0 1,0 9.72,0a4.86,4.86 0 1,0 -9.72,0M116.64,566.5a4.86,4.86 0 1,0 9.72,0a4.86,4.86 0 1,0 -9.72,0M119.64,566.5a4.86,4.86 0 1,0 9.72,0a4.86,4.86 0 1,0 -9.72,0M121.64,567.5a4.86,4.86 0 1,0 9.72,0a4.86,4.86 0 1,0 -9.72,0M124.64,567.5a4.86,4.86 0 1,0 9.72,0a4.86,4.86 0 1,0 -9.72,0M127.64,567.5a4.86,4.86 0 1,0 9.72,0a4.86,4.86 0 1,0 -9.72,0M129.64,567.5a4.86,4.86 0 1,0 9.72,0a4.86,4.86 0 1,0 -9.72,0M132.64,566.5a4.86,4.86 0 1,0 9.72,0a4.86,4.86 0 1,0 -9.72,0M134.64,567.5a4.86,4.86 0 1,0 9.72,0a4.86,4.86 0 1,0 -9.72,0M137.64,567.5a4.86,4.86 0 1,0 9.72,0a4.86,4.86 0 1,0 -9.72,0M139.64,567.5a4.86,4.86 0 1,0 9.72,0a4.86,4.86 0 1,0 -9.72,0M142.64,566.5a4.86,4.86 0 1,0 9.72,0a4.86,4.86 0 1,0 -9.72,0M144.64,567.5a4.86,4.86 0 1,0 9.72,0a4.86,4.86 0 1,0 -9.72,0M147.64,567.5a4.86,4.86 0 1,0 9.72,0a4.86,4.86 0 1,0 -9.72,0M149.64,567.5a4.86,4.86 0 1,0 9.72,0a4.86,4.86 0 1,0 -9.72,0M152.64,567.5a4.86,4.86 0 1,0 9.72,0a4.86,4.86 0 1,0 -9.72,0M154.64,567.5a4.86,4.86 0 1,0 9.72,0a4.86,4.86 0 1,0 -9.72,0M157.64,566.5a4.86,4.86 0 1,0 9.72,0a4.86,4.86 0 1,0 -9.72,0M159.64,567.5a4.86,4.86 0 1,0 9.72,0a4.86,4.86 0 1,0 -9.72,0M162.64,567.5a4.86,4.86 0 1,0 9.72,0a4.86,4.86 0 1,0 -9.72,0M164.64,567.5a4.86,4.86 0 1,0 9.72,0a4.86,4.86 0 1,0 -9.72,0M167.64,568.5a4.86,4.86 0 1,0 9.72,0a4.86,4.86 0 1,0 -9.72,0M169.64,568.5a4.86,4.86 0 1,0 9.72,0a4.86,4.86 0 1,0 -9.72,0M172.64,566.5a4.86,4.86 0 1,0 9.72,0a4.86,4.86 0 1,0 -9.72,0M174.64,568.5a4.86,4.86 0 1,0 9.72,0a4.86,4.86 0 1,0 -9.72,0M177.64,568.5a4.86,4.86 0 1,0 9.72,0a4.86,4.86 0 1,0 -9.72,0M180.64,568.5a4.86,4.86 0 1,0 9.72,0a4.86,4.86 0 1,0 -9.72,0M182.64,568.5a4.86,4.86 0 1,0 9.72,0a4.86,4.86 0 1,0 -9.72,0M185.64,568.5a4.86,4.86 0 1,0 9.72,0a4.86,4.86 0 1,0 -9.72,0M187.64,568.5a4.86,4.86 0 1,0 9.72,0a4.86,4.86 0 1,0 -9.72,0M190.64,566.5a4.86,4.86 0 1,0 9.72,0a4.86,4.86 0 1,0 -9.72,0M192.64,568.5a4.86,4.86 0 1,0 9.72,0a4.86,4.86 0 1,0 -9.72,0M195.64,568.5a4.86,4.86 0 1,0 9.72,0a4.86,4.86 0 1,0 -9.72,0M197.64,568.5a4.86,4.86 0 1,0 9.72,0a4.86,4.86 0 1,0 -9.72,0M200.64,568.5a4.86,4.86 0 1,0 9.72,0a4.86,4.86 0 1,0 -9.72,0M202.64,567.5a4.86,4.86 0 1,0 9.72,0a4.86,4.86 0 1,0 -9.72,0M205.64,568.5a4.86,4.86 0 1,0 9.72,0a4.86,4.86 0 1,0 -9.72,0M207.64,568.5a4.86,4.86 0 1,0 9.72,0a4.86,4.86 0 1,0 -9.72,0M210.64,568.5a4.86,4.86 0 1,0 9.72,0a4.86,4.86 0 1,0 -9.72,0M212.64,568.5a4.86,4.86 0 1,0 9.72,0a4.86,4.86 0 1,0 -9.72,0M215.64,568.5a4.86,4.86 0 1,0 9.72,0a4.86,4.86 0 1,0 -9.72,0M217.64,568.5a4.86,4.86 0 1,0 9.72,0a4.86,4.86 0 1,0 -9.72,0M220.64,568.5a4.86,4.86 0 1,0 9.72,0a4.86,4.86 0 1,0 -9.72,0M222.64,568.5a4.86,4.86 0 1,0 9.72,0a4.86,4.86 0 1,0 -9.72,0M225.64,568.5a4.86,4.86 0 1,0 9.72,0a4.86,4.86 0 1,0 -9.72,0M227.64,567.5a4.86,4.86 0 1,0 9.72,0a4.86,4.86 0 1,0 -9.72,0M230.64,568.5a4.86,4.86 0 1,0 9.72,0a4.86,4.86 0 1,0 -9.72,0M233.64,568.5a4.86,4.86 0 1,0 9.72,0a4.86,4.86 0 1,0 -9.72,0M235.64,568.5a4.86,4.86 0 1,0 9.72,0a4.86,4.86 0 1,0 -9.72,0M238.64,568.5a4.86,4.86 0 1,0 9.72,0a4.86,4.86 0 1,0 -9.72,0M240.64,568.5a4.86,4.86 0 1,0 9.72,0a4.86,4.86 0 1,0 -9.72,0M243.64,568.5a4.86,4.86 0 1,0 9.72,0a4.86,4.86 0 1,0 -9.72,0M245.64,568.5a4.86,4.86 0 1,0 9.72,0a4.86,4.86 0 1,0 -9.72,0M248.64,568.5a4.86,4.86 0 1,0 9.72,0a4.86,4.86 0 1,0 -9.72,0M250.64,568.5a4.86,4.86 0 1,0 9.72,0a4.86,4.86 0 1,0 -9.72,0M253.64,568.5a4.86,4.86 0 1,0 9.72,0a4.86,4.86 0 1,0 -9.72,0M255.64,568.5a4.86,4.86 0 1,0 9.72,0a4.86,4.86 0 1,0 -9.72,0M258.64,567.5a4.86,4.86 0 1,0 9.72,0a4.86,4.86 0 1,0 -9.72,0M260.64,568.5a4.86,4.86 0 1,0 9.72,0a4.86,4.86 0 1,0 -9.72,0M263.64,568.5a4.86,4.86 0 1,0 9.72,0a4.86,4.86 0 1,0 -9.72,0M265.64,568.5a4.86,4.86 0 1,0 9.72,0a4.86,4.86 0 1,0 -9.72,0M268.64,568.5a4.86,4.86 0 1,0 9.72,0a4.86,4.86 0 1,0 -9.72,0M270.64,568.5a4.86,4.86 0 1,0 9.72,0a4.86,4.86 0 1,0 -9.72,0M273.64,568.5a4.86,4.86 0 1,0 9.72,0a4.86,4.86 0 1,0 -9.72,0M275.64,568.5a4.86,4.86 0 1,0 9.72,0a4.86,4.86 0 1,0 -9.72,0M278.64,568.5a4.86,4.86 0 1,0 9.72,0a4.86,4.86 0 1,0 -9.72,0M280.64,568.5a4.86,4.86 0 1,0 9.72,0a4.86,4.86 0 1,0 -9.72,0M283.64,568.5a4.86,4.86 0 1,0 9.72,0a4.86,4.86 0 1,0 -9.72,0M286.64,568.5a4.86,4.86 0 1,0 9.72,0a4.86,4.86 0 1,0 -9.72,0M288.64,568.5a4.86,4.86 0 1,0 9.72,0a4.86,4.86 0 1,0 -9.72,0M291.64,568.5a4.86,4.86 0 1,0 9.72,0a4.86,4.86 0 1,0 -9.72,0M293.64,568.5a4.86,4.86 0 1,0 9.72,0a4.86,4.86 0 1,0 -9.72,0M296.64,568.5a4.86,4.86 0 1,0 9.72,0a4.86,4.86 0 1,0 -9.72,0M298.64,568.5a4.86,4.86 0 1,0 9.72,0a4.86,4.86 0 1,0 -9.72,0M301.64,568.5a4.86,4.86 0 1,0 9.72,0a4.86,4.86 0 1,0 -9.72,0M303.64,568.5a4.86,4.86 0 1,0 9.72,0a4.86,4.86 0 1,0 -9.72,0M306.64,568.5a4.86,4.86 0 1,0 9.72,0a4.86,4.86 0 1,0 -9.72,0M308.64,568.5a4.86,4.86 0 1,0 9.72,0a4.86,4.86 0 1,0 -9.72,0M311.64,568.5a4.86,4.86 0 1,0 9.72,0a4.86,4.86 0 1,0 -9.72,0M313.64,568.5a4.86,4.86 0 1,0 9.72,0a4.86,4.86 0 1,0 -9.72,0M316.64,568.5a4.86,4.86 0 1,0 9.72,0a4.86,4.86 0 1,0 -9.72,0M318.64,568.5a4.86,4.86 0 1,0 9.72,0a4.86,4.86 0 1,0 -9.72,0M321.64,568.5a4.86,4.86 0 1,0 9.72,0a4.86,4.86 0 1,0 -9.72,0M323.64,568.5a4.86,4.86 0 1,0 9.72,0a4.86,4.86 0 1,0 -9.72,0M326.64,568.5a4.86,4.86 0 1,0 9.72,0a4.86,4.86 0 1,0 -9.72,0M328.64,568.5a4.86,4.86 0 1,0 9.72,0a4.86,4.86 0 1,0 -9.72,0M331.64,568.5a4.86,4.86 0 1,0 9.72,0a4.86,4.86 0 1,0 -9.72,0M333.64,568.5a4.86,4.86 0 1,0 9.72,0a4.86,4.86 0 1,0 -9.72,0M336.64,568.5a4.86,4.86 0 1,0 9.72,0a4.86,4.86 0 1,0 -9.72,0M339.64,568.5a4.86,4.86 0 1,0 9.72,0a4.86,4.86 0 1,0 -9.72,0M341.64,568.5a4.86,4.86 0 1,0 9.72,0a4.86,4.86 0 1,0 -9.72,0M344.64,568.5a4.86,4.86 0 1,0 9.72,0a4.86,4.86 0 1,0 -9.72,0M346.64,568.5a4.86,4.86 0 1,0 9.72,0a4.86,4.86 0 1,0 -9.72,0M349.64,568.5a4.86,4.86 0 1,0 9.72,0a4.86,4.86 0 1,0 -9.72,0M351.64,568.5a4.86,4.86 0 1,0 9.72,0a4.86,4.86 0 1,0 -9.72,0M354.64,568.5a4.86,4.86 0 1,0 9.72,0a4.86,4.86 0 1,0 -9.72,0M356.64,568.5a4.86,4.86 0 1,0 9.72,0a4.86,4.86 0 1,0 -9.72,0M359.64,568.5a4.86,4.86 0 1,0 9.72,0a4.86,4.86 0 1,0 -9.72,0M361.64,568.5a4.86,4.86 0 1,0 9.72,0a4.86,4.86 0 1,0 -9.72,0M364.64,568.5a4.86,4.86 0 1,0 9.72,0a4.86,4.86 0 1,0 -9.72,0M366.64,568.5a4.86,4.86 0 1,0 9.72,0a4.86,4.86 0 1,0 -9.72,0M369.64,568.5a4.86,4.86 0 1,0 9.72,0a4.86,4.86 0 1,0 -9.72,0M371.64,568.5a4.86,4.86 0 1,0 9.72,0a4.86,4.86 0 1,0 -9.72,0M374.64,568.5a4.86,4.86 0 1,0 9.72,0a4.86,4.86 0 1,0 -9.72,0M376.64,568.5a4.86,4.86 0 1,0 9.72,0a4.86,4.86 0 1,0 -9.72,0M379.64,568.5a4.86,4.86 0 1,0 9.72,0a4.86,4.86 0 1,0 -9.72,0M381.64,568.5a4.86,4.86 0 1,0 9.72,0a4.86,4.86 0 1,0 -9.72,0M384.64,568.5a4.86,4.86 0 1,0 9.72,0a4.86,4.86 0 1,0 -9.72,0M386.64,568.5a4.86,4.86 0 1,0 9.72,0a4.86,4.86 0 1,0 -9.72,0M389.64,568.5a4.86,4.86 0 1,0 9.72,0a4.86,4.86 0 1,0 -9.72,0M391.64,568.5a4.86,4.86 0 1,0 9.72,0a4.86,4.86 0 1,0 -9.72,0M394.64,568.5a4.86,4.86 0 1,0 9.72,0a4.86,4.86 0 1,0 -9.72,0M397.64,568.5a4.86,4.86 0 1,0 9.72,0a4.86,4.86 0 1,0 -9.72,0M399.64,567.5a4.86,4.86 0 1,0 9.72,0a4.86,4.86 0 1,0 -9.72,0M402.64,568.5a4.86,4.86 0 1,0 9.72,0a4.86,4.86 0 1,0 -9.72,0M404.64,568.5a4.86,4.86 0 1,0 9.72,0a4.86,4.86 0 1,0 -9.72,0M407.64,568.5a4.86,4.86 0 1,0 9.72,0a4.86,4.86 0 1,0 -9.72,0M409.64,568.5a4.86,4.86 0 1,0 9.72,0a4.86,4.86 0 1,0 -9.72,0M412.64,568.5a4.86,4.86 0 1,0 9.72,0a4.86,4.86 0 1,0 -9.72,0M414.64,568.5a4.86,4.86 0 1,0 9.72,0a4.86,4.86 0 1,0 -9.72,0M417.64,568.5a4.86,4.86 0 1,0 9.72,0a4.86,4.86 0 1,0 -9.72,0M419.64,568.5a4.86,4.86 0 1,0 9.72,0a4.86,4.86 0 1,0 -9.72,0M422.64,567.5a4.86,4.86 0 1,0 9.72,0a4.86,4.86 0 1,0 -9.72,0M424.64,568.5a4.86,4.86 0 1,0 9.72,0a4.86,4.86 0 1,0 -9.72,0M427.64,568.5a4.86,4.86 0 1,0 9.72,0a4.86,4.86 0 1,0 -9.72,0M429.64,568.5a4.86,4.86 0 1,0 9.72,0a4.86,4.86 0 1,0 -9.72,0M432.64,568.5a4.86,4.86 0 1,0 9.72,0a4.86,4.86 0 1,0 -9.72,0M434.64,568.5a4.86,4.86 0 1,0 9.72,0a4.86,4.86 0 1,0 -9.72,0M437.64,568.5a4.86,4.86 0 1,0 9.72,0a4.86,4.86 0 1,0 -9.72,0M439.64,568.5a4.86,4.86 0 1,0 9.72,0a4.86,4.86 0 1,0 -9.72,0M442.64,568.5a4.86,4.86 0 1,0 9.72,0a4.86,4.86 0 1,0 -9.72,0M444.64,568.5a4.86,4.86 0 1,0 9.72,0a4.86,4.86 0 1,0 -9.72,0M447.64,568.5a4.86,4.86 0 1,0 9.72,0a4.86,4.86 0 1,0 -9.72,0M450.64,568.5a4.86,4.86 0 1,0 9.72,0a4.86,4.86 0 1,0 -9.72,0M452.64,567.5a4.86,4.86 0 1,0 9.72,0a4.86,4.86 0 1,0 -9.72,0M455.64,567.5a4.86,4.86 0 1,0 9.72,0a4.86,4.86 0 1,0 -9.72,0M457.64,567.5a4.86,4.86 0 1,0 9.72,0a4.86,4.86 0 1,0 -9.72,0M460.64,567.5a4.86,4.86 0 1,0 9.72,0a4.86,4.86 0 1,0 -9.72,0M462.64,567.5a4.86,4.86 0 1,0 9.72,0a4.86,4.86 0 1,0 -9.72,0M465.64,567.5a4.86,4.86 0 1,0 9.72,0a4.86,4.86 0 1,0 -9.72,0M467.64,567.5a4.86,4.86 0 1,0 9.72,0a4.86,4.86 0 1,0 -9.72,0M470.64,567.5a4.86,4.86 0 1,0 9.72,0a4.86,4.86 0 1,0 -9.72,0M472.64,567.5a4.86,4.86 0 1,0 9.72,0a4.86,4.86 0 1,0 -9.72,0M475.64,567.5a4.86,4.86 0 1,0 9.72,0a4.86,4.86 0 1,0 -9.72,0M477.64,567.5a4.86,4.86 0 1,0 9.72,0a4.86,4.86 0 1,0 -9.72,0M480.64,567.5a4.86,4.86 0 1,0 9.72,0a4.86,4.86 0 1,0 -9.72,0M482.64,567.5a4.86,4.86 0 1,0 9.72,0a4.86,4.86 0 1,0 -9.72,0M485.64,567.5a4.86,4.86 0 1,0 9.72,0a4.86,4.86 0 1,0 -9.72,0M487.64,567.5a4.86,4.86 0 1,0 9.72,0a4.86,4.86 0 1,0 -9.72,0M490.64,567.5a4.86,4.86 0 1,0 9.72,0a4.86,4.86 0 1,0 -9.72,0M492.64,567.5a4.86,4.86 0 1,0 9.72,0a4.86,4.86 0 1,0 -9.72,0M495.64,567.5a4.86,4.86 0 1,0 9.72,0a4.86,4.86 0 1,0 -9.72,0M497.64,567.5a4.86,4.86 0 1,0 9.72,0a4.86,4.86 0 1,0 -9.72,0M500.64,567.5a4.86,4.86 0 1,0 9.72,0a4.86,4.86 0 1,0 -9.72,0M503.64,567.5a4.86,4.86 0 1,0 9.72,0a4.86,4.86 0 1,0 -9.72,0M505.64,567.5a4.86,4.86 0 1,0 9.72,0a4.86,4.86 0 1,0 -9.72,0M508.64,567.5a4.86,4.86 0 1,0 9.72,0a4.86,4.86 0 1,0 -9.72,0M510.64,566.5a4.86,4.86 0 1,0 9.72,0a4.86,4.86 0 1,0 -9.72,0M513.64,567.5a4.86,4.86 0 1,0 9.72,0a4.86,4.86 0 1,0 -9.72,0M515.64,567.5a4.86,4.86 0 1,0 9.72,0a4.86,4.86 0 1,0 -9.72,0M518.64,567.5a4.86,4.86 0 1,0 9.72,0a4.86,4.86 0 1,0 -9.72,0M520.64,567.5a4.86,4.86 0 1,0 9.72,0a4.86,4.86 0 1,0 -9.72,0M523.64,567.5a4.86,4.86 0 1,0 9.72,0a4.86,4.86 0 1,0 -9.72,0M525.64,567.5a4.86,4.86 0 1,0 9.72,0a4.86,4.86 0 1,0 -9.72,0M528.64,567.5a4.86,4.86 0 1,0 9.72,0a4.86,4.86 0 1,0 -9.72,0M530.64,567.5a4.86,4.86 0 1,0 9.72,0a4.86,4.86 0 1,0 -9.72,0M533.64,567.5a4.86,4.86 0 1,0 9.72,0a4.86,4.86 0 1,0 -9.72,0M535.64,566.5a4.86,4.86 0 1,0 9.72,0a4.86,4.86 0 1,0 -9.72,0M538.64,566.5a4.86,4.86 0 1,0 9.72,0a4.86,4.86 0 1,0 -9.72,0M540.64,567.5a4.86,4.86 0 1,0 9.72,0a4.86,4.86 0 1,0 -9.72,0M543.64,567.5a4.86,4.86 0 1,0 9.72,0a4.86,4.86 0 1,0 -9.72,0M545.64,566.5a4.86,4.86 0 1,0 9.72,0a4.86,4.86 0 1,0 -9.72,0M548.64,567.5a4.86,4.86 0 1,0 9.72,0a4.86,4.86 0 1,0 -9.72,0M550.64,567.5a4.86,4.86 0 1,0 9.72,0a4.86,4.86 0 1,0 -9.72,0M553.64,567.5a4.86,4.86 0 1,0 9.72,0a4.86,4.86 0 1,0 -9.72,0M556.64,566.5a4.86,4.86 0 1,0 9.72,0a4.86,4.86 0 1,0 -9.72,0M558.64,566.5a4.86,4.86 0 1,0 9.72,0a4.86,4.86 0 1,0 -9.72,0M561.64,567.5a4.86,4.86 0 1,0 9.72,0a4.86,4.86 0 1,0 -9.72,0M563.64,567.5a4.86,4.86 0 1,0 9.72,0a4.86,4.86 0 1,0 -9.72,0M566.64,566.5a4.86,4.86 0 1,0 9.72,0a4.86,4.86 0 1,0 -9.72,0M568.64,567.5a4.86,4.86 0 1,0 9.72,0a4.86,4.86 0 1,0 -9.72,0M571.64,567.5a4.86,4.86 0 1,0 9.72,0a4.86,4.86 0 1,0 -9.72,0M573.64,566.5a4.86,4.86 0 1,0 9.72,0a4.86,4.86 0 1,0 -9.72,0M576.64,566.5a4.86,4.86 0 1,0 9.72,0a4.86,4.86 0 1,0 -9.72,0M578.64,566.5a4.86,4.86 0 1,0 9.72,0a4.86,4.86 0 1,0 -9.72,0M581.64,567.5a4.86,4.86 0 1,0 9.72,0a4.86,4.86 0 1,0 -9.72,0M583.64,567.5a4.86,4.86 0 1,0 9.72,0a4.86,4.86 0 1,0 -9.72,0M586.64,566.5a4.86,4.86 0 1,0 9.72,0a4.86,4.86 0 1,0 -9.72,0M588.64,567.5a4.86,4.86 0 1,0 9.72,0a4.86,4.86 0 1,0 -9.72,0M591.64,566.5a4.86,4.86 0 1,0 9.72,0a4.86,4.86 0 1,0 -9.72,0M593.64,566.5a4.86,4.86 0 1,0 9.72,0a4.86,4.86 0 1,0 -9.72,0M596.64,567.5a4.86,4.86 0 1,0 9.72,0a4.86,4.86 0 1,0 -9.72,0M598.64,567.5a4.86,4.86 0 1,0 9.72,0a4.86,4.86 0 1,0 -9.72,0M601.64,566.5a4.86,4.86 0 1,0 9.72,0a4.86,4.86 0 1,0 -9.72,0M603.64,566.5a4.86,4.86 0 1,0 9.72,0a4.86,4.86 0 1,0 -9.72,0M606.64,567.5a4.86,4.86 0 1,0 9.72,0a4.86,4.86 0 1,0 -9.72,0M609.64,567.5a4.86,4.86 0 1,0 9.72,0a4.86,4.86 0 1,0 -9.72,0M611.64,567.5a4.86,4.86 0 1,0 9.72,0a4.86,4.86 0 1,0 -9.72,0M614.64,566.5a4.86,4.86 0 1,0 9.72,0a4.86,4.86 0 1,0 -9.72,0M616.64,566.5a4.86,4.86 0 1,0 9.72,0a4.86,4.86 0 1,0 -9.72,0M619.64,567.5a4.86,4.86 0 1,0 9.72,0a4.86,4.86 0 1,0 -9.72,0M621.64,566.5a4.86,4.86 0 1,0 9.72,0a4.86,4.86 0 1,0 -9.72,0M624.64,566.5a4.86,4.86 0 1,0 9.72,0a4.86,4.86 0 1,0 -9.72,0M566.64,564.5a4.86,4.86 0 1,0 9.72,0a4.86,4.86 0 1,0 -9.72,0M573.64,567.5a4.86,4.86 0 1,0 9.72,0a4.86,4.86 0 1,0 -9.72,0M578.64,563.5a4.86,4.86 0 1,0 9.72,0a4.86,4.86 0 1,0 -9.72,0M588.64,564.5a4.86,4.86 0 1,0 9.72,0a4.86,4.86 0 1,0 -9.72,0M598.64,562.5a4.86,4.86 0 1,0 9.72,0a4.86,4.86 0 1,0 -9.72,0M605.64,565.5a4.86,4.86 0 1,0 9.72,0a4.86,4.86 0 1,0 -9.72,0M619.64,561.5a4.86,4.86 0 1,0 9.72,0a4.86,4.86 0 1,0 -9.72,0M625.64,563.5a4.86,4.86 0 1,0 9.72,0a4.86,4.86 0 1,0 -9.72,0M610.64,564.5a4.86,4.86 0 1,0 9.72,0a4.86,4.86 0 1,0 -9.72,0M613.64,565.5a4.86,4.86 0 1,0 9.72,0a4.86,4.86 0 1,0 -9.72,0M583.64,565.5a4.86,4.86 0 1,0 9.72,0a4.86,4.86 0 1,0 -9.72,0M593.64,565.5a4.86,4.86 0 1,0 9.72,0a4.86,4.86 0 1,0 -9.72,0M560.64,566.5a4.86,4.86 0 1,0 9.72,0a4.86,4.86 0 1,0 -9.72,0M550.64,566.5a4.86,4.86 0 1,0 9.72,0a4.86,4.86 0 1,0 -9.72,0M629.64,561.5a4.86,4.86 0 1,0 9.72,0a4.86,4.86 0 1,0 -9.72,0M631.64,558.5a4.86,4.86 0 1,0 9.72,0a4.86,4.86 0 1,0 -9.72,0M634.64,558.5a4.86,4.86 0 1,0 9.72,0a4.86,4.86 0 1,0 -9.72,0M637.64,559.5a4.86,4.86 0 1,0 9.72,0a4.86,4.86 0 1,0 -9.72,0M641.64,560.5a4.86,4.86 0 1,0 9.72,0a4.86,4.86 0 1,0 -9.72,0M641.64,560.5a4.86,4.86 0 1,0 9.72,0a4.86,4.86 0 1,0 -9.72,0M645.64,559.5a4.86,4.86 0 1,0 9.72,0a4.86,4.86 0 1,0 -9.72,0M648.64,556.5a4.86,4.86 0 1,0 9.72,0a4.86,4.86 0 1,0 -9.72,0M650.64,552.5a4.86,4.86 0 1,0 9.72,0a4.86,4.86 0 1,0 -9.72,0M654.64,548.5a4.86,4.86 0 1,0 9.72,0a4.86,4.86 0 1,0 -9.72,0M656.64,545.5a4.86,4.86 0 1,0 9.72,0a4.86,4.86 0 1,0 -9.72,0M660.64,538.5a4.86,4.86 0 1,0 9.72,0a4.86,4.86 0 1,0 -9.72,0M662.64,552.5a4.86,4.86 0 1,0 9.72,0a4.86,4.86 0 1,0 -9.72,0M666.64,532.5a4.86,4.86 0 1,0 9.72,0a4.86,4.86 0 1,0 -9.72,0M669.64,540.5a4.86,4.86 0 1,0 9.72,0a4.86,4.86 0 1,0 -9.72,0M669.64,535.5a4.86,4.86 0 1,0 9.72,0a4.86,4.86 0 1,0 -9.72,0M672.64,530.5a4.86,4.86 0 1,0 9.72,0a4.86,4.86 0 1,0 -9.72,0M678.64,535.5a4.86,4.86 0 1,0 9.72,0a4.86,4.86 0 1,0 -9.72,0M682.64,543.5a4.86,4.86 0 1,0 9.72,0a4.86,4.86 0 1,0 -9.72,0M684.64,530.5a4.86,4.86 0 1,0 9.72,0a4.86,4.86 0 1,0 -9.72,0M688.64,505.5a4.86,4.86 0 1,0 9.72,0a4.86,4.86 0 1,0 -9.72,0M689.64,494.5a4.86,4.86 0 1,0 9.72,0a4.86,4.86 0 1,0 -9.72,0M693.64,492.5a4.86,4.86 0 1,0 9.72,0a4.86,4.86 0 1,0 -9.72,0M694.64,528.5a4.86,4.86 0 1,0 9.72,0a4.86,4.86 0 1,0 -9.72,0M698.64,526.5a4.86,4.86 0 1,0 9.72,0a4.86,4.86 0 1,0 -9.72,0M699.64,513.5a4.86,4.86 0 1,0 9.72,0a4.86,4.86 0 1,0 -9.72,0M703.64,509.5a4.86,4.86 0 1,0 9.72,0a4.86,4.86 0 1,0 -9.72,0M704.64,489.5a4.86,4.86 0 1,0 9.72,0a4.86,4.86 0 1,0 -9.72,0M708.64,511.5a4.86,4.86 0 1,0 9.72,0a4.86,4.86 0 1,0 -9.72,0M709.64,515.5a4.86,4.86 0 1,0 9.72,0a4.86,4.86 0 1,0 -9.72,0M713.64,524.5a4.86,4.86 0 1,0 9.72,0a4.86,4.86 0 1,0 -9.72,0M714.64,531.5a4.86,4.86 0 1,0 9.72,0a4.86,4.86 0 1,0 -9.72,0M718.64,494.5a4.86,4.86 0 1,0 9.72,0a4.86,4.86 0 1,0 -9.72,0M718.64,504.5a4.86,4.86 0 1,0 9.72,0a4.86,4.86 0 1,0 -9.72,0M722.64,481.5a4.86,4.86 0 1,0 9.72,0a4.86,4.86 0 1,0 -9.72,0M726.64,492.5a4.86,4.86 0 1,0 9.72,0a4.86,4.86 0 1,0 -9.72,0M727.64,480.5a4.86,4.86 0 1,0 9.72,0a4.86,4.86 0 1,0 -9.72,0M730.64,523.5a4.86,4.86 0 1,0 9.72,0a4.86,4.86 0 1,0 -9.72,0M734.64,523.5a4.86,4.86 0 1,0 9.72,0a4.86,4.86 0 1,0 -9.72,0M735.64,480.5a4.86,4.86 0 1,0 9.72,0a4.86,4.86 0 1,0 -9.72,0M737.64,488.5a4.86,4.86 0 1,0 9.72,0a4.86,4.86 0 1,0 -9.72,0M739.64,479.5a4.86,4.86 0 1,0 9.72,0a4.86,4.86 0 1,0 -9.72,0M743.64,487.5a4.86,4.86 0 1,0 9.72,0a4.86,4.86 0 1,0 -9.72,0M745.64,494.5a4.86,4.86 0 1,0 9.72,0a4.86,4.86 0 1,0 -9.72,0M748.64,525.5a4.86,4.86 0 1,0 9.72,0a4.86,4.86 0 1,0 -9.72,0M751.64,522.5a4.86,4.86 0 1,0 9.72,0a4.86,4.86 0 1,0 -9.72,0M752.64,487.5a4.86,4.86 0 1,0 9.72,0a4.86,4.86 0 1,0 -9.72,0M755.64,474.5a4.86,4.86 0 1,0 9.72,0a4.86,4.86 0 1,0 -9.72,0M759.64,472.5a4.86,4.86 0 1,0 9.72,0a4.86,4.86 0 1,0 -9.72,0M760.64,458.5a4.86,4.86 0 1,0 9.72,0a4.86,4.86 0 1,0 -9.72,0M762.64,483.5a4.86,4.86 0 1,0 9.72,0a4.86,4.86 0 1,0 -9.72,0M765.64,515.5a4.86,4.86 0 1,0 9.72,0a4.86,4.86 0 1,0 -9.72,0M769.64,514.5a4.86,4.86 0 1,0 9.72,0a4.86,4.86 0 1,0 -9.72,0M770.64,448.5a4.86,4.86 0 1,0 9.72,0a4.86,4.86 0 1,0 -9.72,0M772.64,439.5a4.86,4.86 0 1,0 9.72,0a4.86,4.86 0 1,0 -9.72,0M776.64,449.5a4.86,4.86 0 1,0 9.72,0a4.86,4.86 0 1,0 -9.72,0M777.64,439.5a4.86,4.86 0 1,0 9.72,0a4.86,4.86 0 1,0 -9.72,0M779.64,459.5a4.86,4.86 0 1,0 9.72,0a4.86,4.86 0 1,0 -9.72,0" fill="#ff7f0e"/>
</g>
<line x1="714" y1="567.9" x2="714" y2="15.5" stroke="rgba(31,119,180,0.55)" stroke-width="2.08" stroke-dasharray="7.708 3.333" clip-path="url(#ct)"/>
<clipPath id="cb"><rect x="69.5" y="592.5" width="716.0" height="553.0"/></clipPath>
<g clip-path="url(#cb)">
<path d="M68.5,1144.9 L70.96,1144.9 L73.49,1144.9 L76.01,1144.9 L78.53,1144.9 L81.06,1144.9 L83.58,1144.9 L86.1,1144.9 L88.63,1144.9 L91.15,1144.9 L93.68,1144.9 L96.2,1144.9 L98.72,1144.9 L101.25,1144.9 L103.77,1144.9 L106.29,1144.9 L108.82,1144.9 L111.34,1144.9 L113.86,1144.9 L116.39,1144.9 L118.91,1144.9 L121.43,1140.37 L123.96,1140.37 L126.48,1135.84 L129,1135.84 L131.53,1131.3 L134.05,1131.3 L136.57,1131.3 L139.1,1131.3 L141.62,1131.3 L144.15,1131.3 L146.67,1131.3 L149.19,1131.3 L151.72,1131.3 L154.24,1131.3 L156.76,1126.77 L159.29,1126.77 L161.81,1126.77 L164.33,1126.77 L166.86,1126.77 L169.38,1126.77 L171.9,1126.77 L174.43,1131.3 L176.95,1131.3 L179.47,1131.3 L182,1131.3 L184.52,1131.3 L187.04,1131.3 L189.57,1131.3 L192.09,1131.3 L194.62,1131.3 L197.14,1131.3 L199.66,1131.3 L202.19,1131.3 L204.71,1131.3 L207.23,1131.3 L209.76,1131.3 L212.28,1131.3 L214.8,1131.3 L217.33,1131.3 L219.85,1131.3 L222.37,1131.3 L224.9,1131.3 L227.42,1131.3 L229.94,1131.3 L232.47,1131.3 L234.99,1131.3 L237.51,1131.3 L240.04,1131.3 L242.56,1131.3 L245.09,1135.84 L247.61,1135.84 L250.13,1135.84 L252.66,1135.84 L255.18,1135.84 L257.7,1135.84 L260.23,1135.84 L262.75,1131.3 L265.27,1131.3 L267.8,1131.3 L270.32,1131.3 L272.84,1135.84 L275.37,1135.84 L277.89,1135.84 L280.41,1135.84 L282.94,1135.84 L285.46,1135.84 L287.98,1135.84 L290.51,1135.84 L293.03,1135.84 L295.56,1135.84 L298.08,1135.84 L300.6,1135.84 L303.13,1135.84 L305.65,1135.84 L308.17,1135.84 L310.7,1135.84 L313.22,1135.84 L315.74,1135.84 L318.27,1135.84 L320.79,1135.84 L323.31,1135.84 L325.84,1135.84 L328.36,1135.84 L330.88,1135.84 L333.41,1135.84 L335.93,1135.84 L338.45,1135.84 L340.98,1135.84 L343.5,1135.84 L346.03,1135.84 L348.55,1140.37 L351.07,1140.37 L353.6,1144.9 L356.12,1144.9 L358.64,1144.9 L361.17,1144.9 L363.69,1144.9 L366.21,1144.9 L368.74,1144.9 L371.26,1144.9 L373.78,1144.9 L376.31,1144.9 L378.83,1144.9 L381.35,1144.9 L383.88,1144.9 L386.4,1144.9 L388.92,1144.9 L391.45,1144.9 L393.97,1144.9 L396.5,1144.9 L399.02,1144.9 L401.54,1144.9 L404.07,1144.9 L406.59,1144.9 L409.11,1144.9 L411.64,1144.9 L414.16,1144.9 L416.68,1144.9 L419.21,1144.9 L421.73,1144.9 L424.25,1144.9 L426.78,1144.9 L429.3,1144.9 L431.82,1144.9 L434.35,1144.9 L436.87,1144.9 L439.39,1144.9 L441.92,1144.9 L444.44,1144.9 L446.97,1144.9 L449.49,1144.9 L452.01,1144.9 L454.54,1144.9 L457.06,1144.9 L459.58,1144.9 L462.11,1144.9 L464.63,1144.9 L467.15,1144.9 L469.68,1144.9 L472.2,1144.9 L474.72,1144.9 L477.25,1144.9 L479.77,1144.9 L482.29,1144.9 L484.82,1144.9 L487.34,1144.9 L489.86,1144.9 L492.39,1144.9 L494.91,1144.9 L497.44,1144.9 L499.96,1144.9 L502.48,1144.9 L505.01,1144.9 L507.53,1135.84 L510.05,1135.84 L512.58,1135.84 L515.1,1135.84 L517.62,1135.84 L520.15,1135.84 L522.67,1135.84 L525.19,1135.84 L527.72,1135.84 L530.24,1135.84 L532.76,1135.84 L535.29,1135.84 L537.81,1135.84 L540.34,1135.84 L542.86,1135.84 L545.38,1135.84 L547.91,1135.84 L550.43,1135.84 L552.95,1135.84 L555.48,1135.84 L558,1135.84 L560.52,1135.84 L563.05,1135.84 L565.57,1135.84 L568.09,1135.84 L570.62,1135.84 L573.14,1135.84 L575.66,1135.84 L578.19,1135.84 L580.71,1131.3 L583.23,1131.3 L585.76,1131.3 L588.28,1131.3 L590.8,1131.3 L593.33,1131.3 L595.85,1131.3 L598.38,1131.3 L600.9,1131.3 L603.42,1131.3 L605.95,1131.3 L608.47,1131.3 L610.99,1126.77 L613.52,1126.77 L616.04,1126.77 L618.56,1126.77 L621.09,1126.77 L623.61,1126.77 L626.13,1126.77 L628.66,1126.77 L631.18,1126.77 L633.7,1126.77 L636.23,1126.77 L638.75,1126.77 L641.27,1117.71 L643.8,1117.71 L646.32,1113.18 L648.85,1113.18 L651.37,1113.18 L653.89,1108.64 L656.42,1108.64 L658.94,1108.64 L661.46,1104.11 L663.99,1104.11 L666.51,1104.11 L669.03,1099.58 L671.56,1095.05 L674.08,1095.05 L676.6,1090.52 L679.13,1085.98 L681.65,1081.45 L684.17,1081.45 L686.7,1076.92 L689.22,1067.86 L691.75,1063.32 L694.27,1058.79 L696.79,1054.26 L699.32,1054.26 L701.84,1049.73 L704.36,1040.66 L706.89,1031.6 L709.41,1022.54 L711.93,1018 L714.46,1013.47 L714.46,1131.3 L711.93,1131.3 L709.41,1131.3 L706.89,1131.3 L704.36,1131.3 L701.84,1135.84 L699.32,1135.84 L696.79,1135.84 L694.27,1135.84 L691.75,1140.37 L689.22,1140.37 L686.7,1140.37 L684.17,1140.37 L681.65,1140.37 L679.13,1140.37 L676.6,1144.9 L674.08,1144.9 L671.56,1144.9 L669.03,1144.9 L666.51,1144.9 L663.99,1144.9 L661.46,1144.9 L658.94,1144.9 L656.42,1144.9 L653.89,1144.9 L651.37,1144.9 L648.85,1144.9 L646.32,1144.9 L643.8,1144.9 L641.27,1144.9 L638.75,1144.9 L636.23,1144.9 L633.7,1144.9 L631.18,1144.9 L628.66,1144.9 L626.13,1144.9 L623.61,1144.9 L621.09,1144.9 L618.56,1144.9 L616.04,1144.9 L613.52,1144.9 L610.99,1144.9 L608.47,1144.9 L605.95,1144.9 L603.42,1144.9 L600.9,1144.9 L598.38,1144.9 L595.85,1144.9 L593.33,1144.9 L590.8,1144.9 L588.28,1144.9 L585.76,1144.9 L583.23,1144.9 L580.71,1144.9 L578.19,1144.9 L575.66,1144.9 L573.14,1144.9 L570.62,1144.9 L568.09,1144.9 L565.57,1144.9 L563.05,1144.9 L560.52,1144.9 L558,1144.9 L555.48,1144.9 L552.95,1144.9 L550.43,1144.9 L547.91,1144.9 L545.38,1144.9 L542.86,1144.9 L540.34,1144.9 L537.81,1144.9 L535.29,1144.9 L532.76,1144.9 L530.24,1144.9 L527.72,1144.9 L525.19,1144.9 L522.67,1144.9 L520.15,1144.9 L517.62,1144.9 L515.1,1144.9 L512.58,1144.9 L510.05,1144.9 L507.53,1144.9 L505.01,1144.9 L502.48,1144.9 L499.96,1144.9 L497.44,1144.9 L494.91,1144.9 L492.39,1144.9 L489.86,1144.9 L487.34,1144.9 L484.82,1144.9 L482.29,1144.9 L479.77,1144.9 L477.25,1144.9 L474.72,1144.9 L472.2,1144.9 L469.68,1144.9 L467.15,1144.9 L464.63,1144.9 L462.11,1144.9 L459.58,1144.9 L457.06,1144.9 L454.54,1144.9 L452.01,1144.9 L449.49,1144.9 L446.97,1144.9 L444.44,1144.9 L441.92,1144.9 L439.39,1144.9 L436.87,1144.9 L434.35,1144.9 L431.82,1144.9 L429.3,1144.9 L426.78,1144.9 L424.25,1144.9 L421.73,1144.9 L419.21,1144.9 L416.68,1144.9 L414.16,1144.9 L411.64,1144.9 L409.11,1144.9 L406.59,1144.9 L404.07,1144.9 L401.54,1144.9 L399.02,1144.9 L396.5,1144.9 L393.97,1144.9 L391.45,1144.9 L388.92,1144.9 L386.4,1144.9 L383.88,1144.9 L381.35,1144.9 L378.83,1144.9 L376.31,1144.9 L373.78,1144.9 L371.26,1144.9 L368.74,1144.9 L366.21,1144.9 L363.69,1144.9 L361.17,1144.9 L358.64,1144.9 L356.12,1144.9 L353.6,1144.9 L351.07,1144.9 L348.55,1144.9 L346.03,1144.9 L343.5,1144.9 L340.98,1144.9 L338.45,1144.9 L335.93,1144.9 L333.41,1144.9 L330.88,1144.9 L328.36,1144.9 L325.84,1144.9 L323.31,1144.9 L320.79,1144.9 L318.27,1144.9 L315.74,1144.9 L313.22,1144.9 L310.7,1144.9 L308.17,1144.9 L305.65,1144.9 L303.13,1144.9 L300.6,1144.9 L298.08,1144.9 L295.56,1144.9 L293.03,1144.9 L290.51,1144.9 L287.98,1144.9 L285.46,1144.9 L282.94,1144.9 L280.41,1144.9 L277.89,1144.9 L275.37,1144.9 L272.84,1144.9 L270.32,1144.9 L267.8,1144.9 L265.27,1144.9 L262.75,1144.9 L260.23,1144.9 L257.7,1144.9 L255.18,1144.9 L252.66,1144.9 L250.13,1144.9 L247.61,1144.9 L245.09,1144.9 L242.56,1144.9 L240.04,1144.9 L237.51,1144.9 L234.99,1144.9 L232.47,1144.9 L229.94,1144.9 L227.42,1144.9 L224.9,1144.9 L222.37,1144.9 L219.85,1144.9 L217.33,1144.9 L214.8,1144.9 L212.28,1144.9 L209.76,1144.9 L207.23,1144.9 L204.71,1144.9 L202.19,1144.9 L199.66,1144.9 L197.14,1144.9 L194.62,1144.9 L192.09,1144.9 L189.57,1144.9 L187.04,1144.9 L184.52,1144.9 L182,1144.9 L179.47,1144.9 L176.95,1144.9 L174.43,1144.9 L171.9,1144.9 L169.38,1144.9 L166.86,1144.9 L164.33,1144.9 L161.81,1144.9 L159.29,1144.9 L156.76,1144.9 L154.24,1144.9 L151.72,1144.9 L149.19,1144.9 L146.67,1144.9 L144.15,1144.9 L141.62,1144.9 L139.1,1144.9 L136.57,1144.9 L134.05,1144.9 L131.53,1144.9 L129,1144.9 L126.48,1144.9 L123.96,1144.9 L121.43,1144.9 L118.91,1144.9 L116.39,1144.9 L113.86,1144.9 L111.34,1144.9 L108.82,1144.9 L106.29,1144.9 L103.77,1144.9 L101.25,1144.9 L98.72,1144.9 L96.2,1144.9 L93.68,1144.9 L91.15,1144.9 L88.63,1144.9 L86.1,1144.9 L83.58,1144.9 L81.06,1144.9 L78.53,1144.9 L76.01,1144.9 L73.49,1144.9 L70.96,1144.9 L68.5,1144.9 Z" fill="rgba(31,119,180,0.1)" stroke="rgba(31,119,180,0.12)" stroke-width="1"/>
<path d="M68.5,1144.9 L70.96,1144.9 L73.49,1144.9 L76.01,1144.9 L78.53,1144.9 L81.06,1144.9 L83.58,1144.9 L86.1,1144.9 L88.63,1144.9 L91.15,1144.9 L93.68,1144.9 L96.2,1144.9 L98.72,1144.9 L101.25,1144.9 L103.77,1140.37 L106.29,1140.37 L108.82,1140.37 L111.34,1140.37 L113.86,1140.37 L116.39,1140.37 L118.91,1140.37 L121.43,1140.37 L123.96,1140.37 L126.48,1140.37 L129,1135.84 L131.53,1135.84 L134.05,1135.84 L136.57,1135.84 L139.1,1135.84 L141.62,1135.84 L144.15,1135.84 L146.67,1135.84 L149.19,1135.84 L151.72,1135.84 L154.24,1135.84 L156.76,1135.84 L159.29,1135.84 L161.81,1135.84 L164.33,1135.84 L166.86,1135.84 L169.38,1135.84 L171.9,1135.84 L174.43,1135.84 L176.95,1135.84 L179.47,1135.84 L182,1135.84 L184.52,1135.84 L187.04,1135.84 L189.57,1135.84 L192.09,1135.84 L194.62,1135.84 L197.14,1135.84 L199.66,1135.84 L202.19,1135.84 L204.71,1135.84 L207.23,1135.84 L209.76,1135.84 L212.28,1135.84 L214.8,1135.84 L217.33,1135.84 L219.85,1135.84 L222.37,1135.84 L224.9,1135.84 L227.42,1135.84 L229.94,1135.84 L232.47,1135.84 L234.99,1135.84 L237.51,1135.84 L240.04,1135.84 L242.56,1135.84 L245.09,1135.84 L247.61,1135.84 L250.13,1135.84 L252.66,1135.84 L255.18,1135.84 L257.7,1135.84 L260.23,1135.84 L262.75,1135.84 L265.27,1135.84 L267.8,1135.84 L270.32,1135.84 L272.84,1135.84 L275.37,1135.84 L277.89,1135.84 L280.41,1135.84 L282.94,1135.84 L285.46,1135.84 L287.98,1140.37 L290.51,1140.37 L293.03,1140.37 L295.56,1140.37 L298.08,1140.37 L300.6,1140.37 L303.13,1140.37 L305.65,1140.37 L308.17,1140.37 L310.7,1140.37 L313.22,1140.37 L315.74,1140.37 L318.27,1140.37 L320.79,1140.37 L323.31,1140.37 L325.84,1140.37 L328.36,1140.37 L330.88,1140.37 L333.41,1140.37 L335.93,1140.37 L338.45,1140.37 L340.98,1140.37 L343.5,1140.37 L346.03,1140.37 L348.55,1140.37 L351.07,1140.37 L353.6,1140.37 L356.12,1140.37 L358.64,1140.37 L361.17,1140.37 L363.69,1140.37 L366.21,1140.37 L368.74,1140.37 L371.26,1140.37 L373.78,1140.37 L376.31,1140.37 L378.83,1140.37 L381.35,1140.37 L383.88,1140.37 L386.4,1140.37 L388.92,1140.37 L391.45,1140.37 L393.97,1140.37 L396.5,1140.37 L399.02,1140.37 L401.54,1140.37 L404.07,1140.37 L406.59,1140.37 L409.11,1140.37 L411.64,1140.37 L414.16,1140.37 L416.68,1140.37 L419.21,1140.37 L421.73,1140.37 L424.25,1140.37 L426.78,1140.37 L429.3,1140.37 L431.82,1140.37 L434.35,1140.37 L436.87,1140.37 L439.39,1140.37 L441.92,1140.37 L444.44,1140.37 L446.97,1140.37 L449.49,1140.37 L452.01,1140.37 L454.54,1140.37 L457.06,1140.37 L459.58,1140.37 L462.11,1140.37 L464.63,1140.37 L467.15,1140.37 L469.68,1140.37 L472.2,1140.37 L474.72,1140.37 L477.25,1140.37 L479.77,1140.37 L482.29,1140.37 L484.82,1140.37 L487.34,1140.37 L489.86,1140.37 L492.39,1140.37 L494.91,1140.37 L497.44,1140.37 L499.96,1140.37 L502.48,1140.37 L505.01,1140.37 L507.53,1140.37 L510.05,1140.37 L512.58,1140.37 L515.1,1140.37 L517.62,1140.37 L520.15,1140.37 L522.67,1140.37 L525.19,1140.37 L527.72,1140.37 L530.24,1140.37 L532.76,1140.37 L535.29,1140.37 L537.81,1140.37 L540.34,1140.37 L542.86,1140.37 L545.38,1140.37 L547.91,1140.37 L550.43,1140.37 L552.95,1140.37 L555.48,1140.37 L558,1140.37 L560.52,1140.37 L563.05,1140.37 L565.57,1140.37 L568.09,1140.37 L570.62,1140.37 L573.14,1140.37 L575.66,1140.37 L578.19,1140.37 L580.71,1140.37 L583.23,1140.37 L585.76,1135.84 L588.28,1135.84 L590.8,1135.84 L593.33,1135.84 L595.85,1135.84 L598.38,1135.84 L600.9,1135.84 L603.42,1135.84 L605.95,1135.84 L608.47,1135.84 L610.99,1135.84 L613.52,1135.84 L616.04,1135.84 L618.56,1135.84 L621.09,1135.84 L623.61,1131.3 L626.13,1131.3 L628.66,1131.3 L631.18,1131.3 L633.7,1131.3 L636.23,1131.3 L638.75,1131.3 L641.27,1131.3 L643.8,1126.77 L646.32,1126.77 L648.85,1122.24 L651.37,1122.24 L653.89,1122.24 L656.42,1117.71 L658.94,1117.71 L661.46,1113.18 L663.99,1113.18 L666.51,1108.64 L669.03,1108.64 L671.56,1104.11 L674.08,1104.11 L676.6,1099.58 L679.13,1099.58 L681.65,1095.05 L684.17,1090.52 L686.7,1090.52 L689.22,1085.98 L691.75,1081.45 L694.27,1076.92 L696.79,1076.92 L699.32,1076.92 L701.84,1072.39 L704.36,1072.39 L706.89,1063.32 L709.41,1058.79 L711.93,1049.73 L714.46,1045.2 L714.46,1117.71 L711.93,1117.71 L709.41,1117.71 L706.89,1122.24 L704.36,1122.24 L701.84,1122.24 L699.32,1122.24 L696.79,1126.77 L694.27,1126.77 L691.75,1126.77 L689.22,1126.77 L686.7,1131.3 L684.17,1131.3 L681.65,1131.3 L679.13,1131.3 L676.6,1135.84 L674.08,1135.84 L671.56,1135.84 L669.03,1135.84 L666.51,1140.37 L663.99,1140.37 L661.46,1140.37 L658.94,1140.37 L656.42,1140.37 L653.89,1140.37 L651.37,1140.37 L648.85,1140.37 L646.32,1140.37 L643.8,1140.37 L641.27,1144.9 L638.75,1144.9 L636.23,1144.9 L633.7,1144.9 L631.18,1144.9 L628.66,1144.9 L626.13,1144.9 L623.61,1144.9 L621.09,1144.9 L618.56,1144.9 L616.04,1144.9 L613.52,1144.9 L610.99,1144.9 L608.47,1144.9 L605.95,1144.9 L603.42,1144.9 L600.9,1144.9 L598.38,1144.9 L595.85,1144.9 L593.33,1144.9 L590.8,1144.9 L588.28,1144.9 L585.76,1144.9 L583.23,1144.9 L580.71,1144.9 L578.19,1144.9 L575.66,1144.9 L573.14,1144.9 L570.62,1144.9 L568.09,1144.9 L565.57,1144.9 L563.05,1144.9 L560.52,1144.9 L558,1144.9 L555.48,1144.9 L552.95,1144.9 L550.43,1144.9 L547.91,1144.9 L545.38,1144.9 L542.86,1144.9 L540.34,1144.9 L537.81,1144.9 L535.29,1144.9 L532.76,1144.9 L530.24,1144.9 L527.72,1144.9 L525.19,1144.9 L522.67,1144.9 L520.15,1144.9 L517.62,1144.9 L515.1,1144.9 L512.58,1144.9 L510.05,1144.9 L507.53,1144.9 L505.01,1144.9 L502.48,1144.9 L499.96,1144.9 L497.44,1144.9 L494.91,1144.9 L492.39,1144.9 L489.86,1144.9 L487.34,1144.9 L484.82,1144.9 L482.29,1144.9 L479.77,1144.9 L477.25,1144.9 L474.72,1144.9 L472.2,1144.9 L469.68,1144.9 L467.15,1144.9 L464.63,1144.9 L462.11,1144.9 L459.58,1144.9 L457.06,1144.9 L454.54,1144.9 L452.01,1144.9 L449.49,1144.9 L446.97,1144.9 L444.44,1144.9 L441.92,1144.9 L439.39,1144.9 L436.87,1144.9 L434.35,1144.9 L431.82,1144.9 L429.3,1144.9 L426.78,1144.9 L424.25,1144.9 L421.73,1144.9 L419.21,1144.9 L416.68,1144.9 L414.16,1144.9 L411.64,1144.9 L409.11,1144.9 L406.59,1144.9 L404.07,1144.9 L401.54,1144.9 L399.02,1144.9 L396.5,1144.9 L393.97,1144.9 L391.45,1144.9 L388.92,1144.9 L386.4,1144.9 L383.88,1144.9 L381.35,1144.9 L378.83,1144.9 L376.31,1144.9 L373.78,1144.9 L371.26,1144.9 L368.74,1144.9 L366.21,1144.9 L363.69,1144.9 L361.17,1144.9 L358.64,1144.9 L356.12,1144.9 L353.6,1144.9 L351.07,1144.9 L348.55,1144.9 L346.03,1144.9 L343.5,1144.9 L340.98,1144.9 L338.45,1144.9 L335.93,1144.9 L333.41,1144.9 L330.88,1144.9 L328.36,1144.9 L325.84,1144.9 L323.31,1144.9 L320.79,1144.9 L318.27,1144.9 L315.74,1144.9 L313.22,1144.9 L310.7,1144.9 L308.17,1144.9 L305.65,1144.9 L303.13,1144.9 L300.6,1144.9 L298.08,1144.9 L295.56,1144.9 L293.03,1144.9 L290.51,1144.9 L287.98,1144.9 L285.46,1144.9 L282.94,1144.9 L280.41,1144.9 L277.89,1144.9 L275.37,1144.9 L272.84,1144.9 L270.32,1144.9 L267.8,1144.9 L265.27,1144.9 L262.75,1144.9 L260.23,1144.9 L257.7,1144.9 L255.18,1144.9 L252.66,1144.9 L250.13,1144.9 L247.61,1144.9 L245.09,1144.9 L242.56,1144.9 L240.04,1144.9 L237.51,1144.9 L234.99,1144.9 L232.47,1144.9 L229.94,1144.9 L227.42,1144.9 L224.9,1144.9 L222.37,1144.9 L219.85,1144.9 L217.33,1144.9 L214.8,1144.9 L212.28,1144.9 L209.76,1144.9 L207.23,1144.9 L204.71,1144.9 L202.19,1144.9 L199.66,1144.9 L197.14,1144.9 L194.62,1144.9 L192.09,1144.9 L189.57,1144.9 L187.04,1144.9 L184.52,1144.9 L182,1144.9 L179.47,1144.9 L176.95,1144.9 L174.43,1144.9 L171.9,1144.9 L169.38,1144.9 L166.86,1144.9 L164.33,1144.9 L161.81,1144.9 L159.29,1144.9 L156.76,1144.9 L154.24,1144.9 L151.72,1144.9 L149.19,1144.9 L146.67,1144.9 L144.15,1144.9 L141.62,1144.9 L139.1,1144.9 L136.57,1144.9 L134.05,1144.9 L131.53,1144.9 L129,1144.9 L126.48,1144.9 L123.96,1144.9 L121.43,1144.9 L118.91,1144.9 L116.39,1144.9 L113.86,1144.9 L111.34,1144.9 L108.82,1144.9 L106.29,1144.9 L103.77,1144.9 L101.25,1144.9 L98.72,1144.9 L96.2,1144.9 L93.68,1144.9 L91.15,1144.9 L88.63,1144.9 L86.1,1144.9 L83.58,1144.9 L81.06,1144.9 L78.53,1144.9 L76.01,1144.9 L73.49,1144.9 L70.96,1144.9 L68.5,1144.9 Z" fill="rgba(31,119,180,0.1)" stroke="rgba(31,119,180,0.12)" stroke-width="1"/>
<path d="M68.5,1144.9 L70.96,1144.9 L73.49,1144.9 L76.01,1144.9 L78.53,1144.9 L81.06,1144.9 L83.58,1144.9 L86.1,1144.9 L88.63,1144.9 L91.15,1144.9 L93.68,1144.9 L96.2,1144.9 L98.72,1144.9 L101.25,1144.9 L103.77,1144.9 L106.29,1144.9 L108.82,1144.9 L111.34,1144.9 L113.86,1144.9 L116.39,1144.9 L118.91,1144.9 L121.43,1144.9 L123.96,1144.9 L126.48,1140.37 L129,1140.37 L131.53,1140.37 L134.05,1140.37 L136.57,1140.37 L139.1,1140.37 L141.62,1140.37 L144.15,1140.37 L146.67,1140.37 L149.19,1140.37 L151.72,1140.37 L154.24,1140.37 L156.76,1140.37 L159.29,1140.37 L161.81,1140.37 L164.33,1140.37 L166.86,1140.37 L169.38,1140.37 L171.9,1140.37 L174.43,1140.37 L176.95,1140.37 L179.47,1140.37 L182,1140.37 L184.52,1140.37 L187.04,1140.37 L189.57,1140.37 L192.09,1140.37 L194.62,1140.37 L197.14,1140.37 L199.66,1140.37 L202.19,1140.37 L204.71,1140.37 L207.23,1140.37 L209.76,1140.37 L212.28,1140.37 L214.8,1140.37 L217.33,1140.37 L219.85,1140.37 L222.37,1140.37 L224.9,1140.37 L227.42,1140.37 L229.94,1140.37 L232.47,1140.37 L234.99,1140.37 L237.51,1140.37 L240.04,1140.37 L242.56,1140.37 L245.09,1140.37 L247.61,1140.37 L250.13,1140.37 L252.66,1140.37 L255.18,1140.37 L257.7,1140.37 L260.23,1140.37 L262.75,1140.37 L265.27,1140.37 L267.8,1140.37 L270.32,1140.37 L272.84,1140.37 L275.37,1140.37 L277.89,1140.37 L280.41,1140.37 L282.94,1140.37 L285.46,1140.37 L287.98,1140.37 L290.51,1140.37 L293.03,1140.37 L295.56,1140.37 L298.08,1140.37 L300.6,1140.37 L303.13,1140.37 L305.65,1140.37 L308.17,1140.37 L310.7,1140.37 L313.22,1140.37 L315.74,1140.37 L318.27,1140.37 L320.79,1140.37 L323.31,1140.37 L325.84,1140.37 L328.36,1140.37 L330.88,1140.37 L333.41,1140.37 L335.93,1140.37 L338.45,1140.37 L340.98,1140.37 L343.5,1140.37 L346.03,1140.37 L348.55,1140.37 L351.07,1140.37 L353.6,1140.37 L356.12,1140.37 L358.64,1140.37 L361.17,1140.37 L363.69,1140.37 L366.21,1140.37 L368.74,1140.37 L371.26,1140.37 L373.78,1140.37 L376.31,1140.37 L378.83,1140.37 L381.35,1140.37 L383.88,1140.37 L386.4,1140.37 L388.92,1140.37 L391.45,1140.37 L393.97,1140.37 L396.5,1140.37 L399.02,1140.37 L401.54,1140.37 L404.07,1140.37 L406.59,1140.37 L409.11,1140.37 L411.64,1140.37 L414.16,1140.37 L416.68,1140.37 L419.21,1140.37 L421.73,1140.37 L424.25,1140.37 L426.78,1140.37 L429.3,1140.37 L431.82,1140.37 L434.35,1140.37 L436.87,1140.37 L439.39,1144.9 L441.92,1144.9 L444.44,1144.9 L446.97,1144.9 L449.49,1144.9 L452.01,1144.9 L454.54,1144.9 L457.06,1144.9 L459.58,1144.9 L462.11,1144.9 L464.63,1144.9 L467.15,1144.9 L469.68,1144.9 L472.2,1144.9 L474.72,1144.9 L477.25,1144.9 L479.77,1144.9 L482.29,1144.9 L484.82,1144.9 L487.34,1144.9 L489.86,1144.9 L492.39,1144.9 L494.91,1144.9 L497.44,1144.9 L499.96,1144.9 L502.48,1144.9 L505.01,1144.9 L507.53,1144.9 L510.05,1144.9 L512.58,1144.9 L515.1,1144.9 L517.62,1144.9 L520.15,1144.9 L522.67,1144.9 L525.19,1144.9 L527.72,1144.9 L530.24,1144.9 L532.76,1144.9 L535.29,1144.9 L537.81,1140.37 L540.34,1140.37 L542.86,1140.37 L545.38,1140.37 L547.91,1140.37 L550.43,1140.37 L552.95,1140.37 L555.48,1140.37 L558,1140.37 L560.52,1140.37 L563.05,1140.37 L565.57,1140.37 L568.09,1140.37 L570.62,1140.37 L573.14,1140.37 L575.66,1140.37 L578.19,1140.37 L580.71,1140.37 L583.23,1140.37 L585.76,1140.37 L588.28,1140.37 L590.8,1140.37 L593.33,1140.37 L595.85,1140.37 L598.38,1140.37 L600.9,1140.37 L603.42,1140.37 L605.95,1135.84 L608.47,1135.84 L610.99,1135.84 L613.52,1135.84 L616.04,1135.84 L618.56,1135.84 L621.09,1135.84 L623.61,1135.84 L626.13,1135.84 L628.66,1135.84 L631.18,1135.84 L633.7,1135.84 L636.23,1135.84 L638.75,1135.84 L641.27,1131.3 L643.8,1131.3 L646.32,1126.77 L648.85,1126.77 L651.37,1122.24 L653.89,1122.24 L656.42,1122.24 L658.94,1117.71 L661.46,1117.71 L663.99,1113.18 L666.51,1113.18 L669.03,1108.64 L671.56,1108.64 L674.08,1104.11 L676.6,1104.11 L679.13,1099.58 L681.65,1099.58 L684.17,1095.05 L686.7,1095.05 L689.22,1090.52 L691.75,1090.52 L694.27,1085.98 L696.79,1085.98 L699.32,1081.45 L701.84,1081.45 L704.36,1076.92 L706.89,1076.92 L709.41,1072.39 L711.93,1072.39 L714.46,1072.39 L714.46,1104.11 L711.93,1104.11 L709.41,1104.11 L706.89,1108.64 L704.36,1108.64 L701.84,1108.64 L699.32,1113.18 L696.79,1113.18 L694.27,1113.18 L691.75,1117.71 L689.22,1117.71 L686.7,1122.24 L684.17,1122.24 L681.65,1122.24 L679.13,1126.77 L676.6,1126.77 L674.08,1126.77 L671.56,1126.77 L669.03,1131.3 L666.51,1131.3 L663.99,1131.3 L661.46,1131.3 L658.94,1131.3 L656.42,1135.84 L653.89,1135.84 L651.37,1135.84 L648.85,1135.84 L646.32,1135.84 L643.8,1140.37 L641.27,1140.37 L638.75,1140.37 L636.23,1140.37 L633.7,1140.37 L631.18,1140.37 L628.66,1140.37 L626.13,1140.37 L623.61,1140.37 L621.09,1140.37 L618.56,1140.37 L616.04,1140.37 L613.52,1140.37 L610.99,1140.37 L608.47,1140.37 L605.95,1140.37 L603.42,1140.37 L600.9,1144.9 L598.38,1144.9 L595.85,1144.9 L593.33,1144.9 L590.8,1144.9 L588.28,1144.9 L585.76,1144.9 L583.23,1144.9 L580.71,1144.9 L578.19,1144.9 L575.66,1144.9 L573.14,1144.9 L570.62,1144.9 L568.09,1144.9 L565.57,1144.9 L563.05,1144.9 L560.52,1144.9 L558,1144.9 L555.48,1144.9 L552.95,1144.9 L550.43,1144.9 L547.91,1144.9 L545.38,1144.9 L542.86,1144.9 L540.34,1144.9 L537.81,1144.9 L535.29,1144.9 L532.76,1144.9 L530.24,1144.9 L527.72,1144.9 L525.19,1144.9 L522.67,1144.9 L520.15,1144.9 L517.62,1144.9 L515.1,1144.9 L512.58,1144.9 L510.05,1144.9 L507.53,1144.9 L505.01,1144.9 L502.48,1144.9 L499.96,1144.9 L497.44,1144.9 L494.91,1144.9 L492.39,1144.9 L489.86,1144.9 L487.34,1144.9 L484.82,1144.9 L482.29,1144.9 L479.77,1144.9 L477.25,1144.9 L474.72,1144.9 L472.2,1144.9 L469.68,1144.9 L467.15,1144.9 L464.63,1144.9 L462.11,1144.9 L459.58,1144.9 L457.06,1144.9 L454.54,1144.9 L452.01,1144.9 L449.49,1144.9 L446.97,1144.9 L444.44,1144.9 L441.92,1144.9 L439.39,1144.9 L436.87,1144.9 L434.35,1144.9 L431.82,1144.9 L429.3,1144.9 L426.78,1144.9 L424.25,1144.9 L421.73,1144.9 L419.21,1144.9 L416.68,1144.9 L414.16,1144.9 L411.64,1144.9 L409.11,1144.9 L406.59,1144.9 L404.07,1144.9 L401.54,1144.9 L399.02,1144.9 L396.5,1144.9 L393.97,1144.9 L391.45,1144.9 L388.92,1144.9 L386.4,1144.9 L383.88,1144.9 L381.35,1144.9 L378.83,1144.9 L376.31,1144.9 L373.78,1144.9 L371.26,1144.9 L368.74,1144.9 L366.21,1144.9 L363.69,1144.9 L361.17,1144.9 L358.64,1144.9 L356.12,1144.9 L353.6,1144.9 L351.07,1144.9 L348.55,1144.9 L346.03,1144.9 L343.5,1144.9 L340.98,1144.9 L338.45,1144.9 L335.93,1144.9 L333.41,1144.9 L330.88,1144.9 L328.36,1144.9 L325.84,1144.9 L323.31,1144.9 L320.79,1144.9 L318.27,1144.9 L315.74,1144.9 L313.22,1144.9 L310.7,1144.9 L308.17,1144.9 L305.65,1144.9 L303.13,1144.9 L300.6,1144.9 L298.08,1144.9 L295.56,1144.9 L293.03,1144.9 L290.51,1144.9 L287.98,1144.9 L285.46,1144.9 L282.94,1144.9 L280.41,1144.9 L277.89,1144.9 L275.37,1144.9 L272.84,1144.9 L270.32,1144.9 L267.8,1144.9 L265.27,1144.9 L262.75,1144.9 L260.23,1144.9 L257.7,1144.9 L255.18,1144.9 L252.66,1144.9 L250.13,1144.9 L247.61,1144.9 L245.09,1144.9 L242.56,1144.9 L240.04,1144.9 L237.51,1144.9 L234.99,1144.9 L232.47,1144.9 L229.94,1144.9 L227.42,1144.9 L224.9,1144.9 L222.37,1144.9 L219.85,1144.9 L217.33,1144.9 L214.8,1144.9 L212.28,1144.9 L209.76,1144.9 L207.23,1144.9 L204.71,1144.9 L202.19,1144.9 L199.66,1144.9 L197.14,1144.9 L194.62,1144.9 L192.09,1144.9 L189.57,1144.9 L187.04,1144.9 L184.52,1144.9 L182,1144.9 L179.47,1144.9 L176.95,1144.9 L174.43,1144.9 L171.9,1144.9 L169.38,1144.9 L166.86,1144.9 L164.33,1144.9 L161.81,1144.9 L159.29,1144.9 L156.76,1144.9 L154.24,1144.9 L151.72,1144.9 L149.19,1144.9 L146.67,1144.9 L144.15,1144.9 L141.62,1144.9 L139.1,1144.9 L136.57,1144.9 L134.05,1144.9 L131.53,1144.9 L129,1144.9 L126.48,1144.9 L123.96,1144.9 L121.43,1144.9 L118.91,1144.9 L116.39,1144.9 L113.86,1144.9 L111.34,1144.9 L108.82,1144.9 L106.29,1144.9 L103.77,1144.9 L101.25,1144.9 L98.72,1144.9 L96.2,1144.9 L93.68,1144.9 L91.15,1144.9 L88.63,1144.9 L86.1,1144.9 L83.58,1144.9 L81.06,1144.9 L78.53,1144.9 L76.01,1144.9 L73.49,1144.9 L70.96,1144.9 L68.5,1144.9 Z" fill="rgba(31,119,180,0.1)" stroke="rgba(31,119,180,0.12)" stroke-width="1"/>
<path d="M716.98,999.88 L719.5,990.81 L722.03,981.75 L724.55,977.22 L727.07,968.15 L729.6,954.56 L732.12,940.96 L734.64,940.96 L737.17,922.83 L739.69,904.7 L742.22,882.04 L744.74,872.98 L747.26,863.92 L749.79,854.85 L752.31,836.72 L754.83,814.06 L757.36,800.47 L759.88,773.28 L762.4,746.08 L764.93,755.15 L767.45,705.3 L769.97,669.04 L772.5,659.98 L775.02,637.32 L777.54,592 L780.07,569.34 L782.59,542.14 L785.11,519.48 L785.11,1058.79 L782.59,1063.32 L780.07,1063.32 L777.54,1067.86 L775.02,1072.39 L772.5,1072.39 L769.97,1076.92 L767.45,1081.45 L764.93,1081.45 L762.4,1085.98 L759.88,1090.52 L757.36,1090.52 L754.83,1095.05 L752.31,1095.05 L749.79,1099.58 L747.26,1104.11 L744.74,1104.11 L742.22,1108.64 L739.69,1108.64 L737.17,1113.18 L734.64,1113.18 L732.12,1113.18 L729.6,1117.71 L727.07,1117.71 L724.55,1117.71 L722.03,1122.24 L719.5,1122.24 L716.98,1122.24 Z" fill="rgba(31,119,180,0.1)" stroke="rgba(31,119,180,0.12)" stroke-width="1"/>
<path d="M716.98,1031.6 L719.5,1027.07 L722.03,1018 L724.55,1013.47 L727.07,1004.41 L729.6,995.34 L732.12,986.28 L734.64,981.75 L737.17,972.68 L739.69,963.62 L742.22,950.02 L744.74,936.43 L747.26,922.83 L749.79,909.24 L752.31,900.17 L754.83,886.58 L757.36,872.98 L759.88,859.38 L762.4,841.26 L764.93,827.66 L767.45,814.06 L769.97,795.94 L772.5,768.74 L775.02,741.55 L777.54,700.76 L780.07,696.23 L782.59,687.17 L785.11,664.51 L785.11,1022.54 L782.59,1027.07 L780.07,1031.6 L777.54,1036.13 L775.02,1040.66 L772.5,1045.2 L769.97,1049.73 L767.45,1054.26 L764.93,1058.79 L762.4,1063.32 L759.88,1067.86 L757.36,1072.39 L754.83,1076.92 L752.31,1076.92 L749.79,1081.45 L747.26,1081.45 L744.74,1085.98 L742.22,1085.98 L739.69,1090.52 L737.17,1095.05 L734.64,1095.05 L732.12,1099.58 L729.6,1099.58 L727.07,1099.58 L724.55,1104.11 L722.03,1104.11 L719.5,1108.64 L716.98,1108.64 Z" fill="rgba(31,119,180,0.1)" stroke="rgba(31,119,180,0.12)" stroke-width="1"/>
<path d="M716.98,1058.79 L719.5,1054.26 L722.03,1045.2 L724.55,1036.13 L727.07,1031.6 L729.6,1022.54 L732.12,1013.47 L734.64,1008.94 L737.17,999.88 L739.69,990.81 L742.22,981.75 L744.74,977.22 L747.26,968.15 L749.79,963.62 L752.31,954.56 L754.83,945.49 L757.36,936.43 L759.88,922.83 L762.4,909.24 L764.93,895.64 L767.45,882.04 L769.97,868.45 L772.5,850.32 L775.02,832.19 L777.54,818.6 L780.07,809.53 L782.59,795.94 L785.11,786.87 L785.11,968.15 L782.59,972.68 L780.07,981.75 L777.54,990.81 L775.02,995.34 L772.5,999.88 L769.97,1004.41 L767.45,1013.47 L764.93,1018 L762.4,1022.54 L759.88,1027.07 L757.36,1031.6 L754.83,1036.13 L752.31,1040.66 L749.79,1045.2 L747.26,1049.73 L744.74,1054.26 L742.22,1058.79 L739.69,1063.32 L737.17,1067.86 L734.64,1072.39 L732.12,1076.92 L729.6,1076.92 L727.07,1081.45 L724.55,1085.98 L722.03,1090.52 L719.5,1090.52 L716.98,1095.05 Z" fill="rgba(31,119,180,0.1)" stroke="rgba(31,119,180,0.12)" stroke-width="1"/>
<line x1="69.5" y1="1145.5" x2="785.5" y2="1145.5" stroke="#b0b0b0" stroke-width="1.11"/>
<line x1="69.5" y1="1054.5" x2="785.5" y2="1054.5" stroke="#b0b0b0" stroke-width="1.11"/>
<line x1="69.5" y1="964.5" x2="785.5" y2="964.5" stroke="#b0b0b0" stroke-width="1.11"/>
<line x1="69.5" y1="873.5" x2="785.5" y2="873.5" stroke="#b0b0b0" stroke-width="1.11"/>
<line x1="69.5" y1="782.5" x2="785.5" y2="782.5" stroke="#b0b0b0" stroke-width="1.11"/>
<line x1="69.5" y1="692.5" x2="785.5" y2="692.5" stroke="#b0b0b0" stroke-width="1.11"/>
<line x1="69.5" y1="601.5" x2="785.5" y2="601.5" stroke="#b0b0b0" stroke-width="1.11"/>
<path d="M68.5,1144.9 L70.96,1144.86 L73.49,1144.8 L76.01,1144.74 L78.53,1144.67 L81.06,1144.61 L83.58,1144.55 L86.1,1144.49 L88.63,1144.42 L91.15,1144.36 L93.68,1144.3 L96.2,1144.23 L98.72,1144.17 L101.25,1144.11 L103.77,1144.05 L106.29,1143.98 L108.82,1143.92 L111.34,1143.86 L113.86,1143.79 L116.39,1143.73 L118.91,1143.67 L121.43,1143.6 L123.96,1143.54 L126.48,1142.84 L129,1142.12 L131.53,1141.41 L134.05,1141.27 L136.57,1141.26 L139.1,1141.24 L141.62,1141.23 L144.15,1141.22 L146.67,1141.21 L149.19,1141.2 L151.72,1141.19 L154.24,1141.18 L156.76,1141.17 L159.29,1141.16 L161.81,1141.15 L164.33,1141.14 L166.86,1141.13 L169.38,1141.12 L171.9,1141.11 L174.43,1141.1 L176.95,1141.09 L179.47,1141.08 L182,1141.06 L184.52,1141.05 L187.04,1141.04 L189.57,1141.03 L192.09,1141.02 L194.62,1141.01 L197.14,1141 L199.66,1140.99 L202.19,1140.98 L204.71,1140.97 L207.23,1140.96 L209.76,1140.95 L212.28,1140.94 L214.8,1140.93 L217.33,1140.92 L219.85,1140.91 L222.37,1140.9 L224.9,1140.88 L227.42,1140.87 L229.94,1140.86 L232.47,1140.85 L234.99,1140.84 L237.51,1140.83 L240.04,1140.82 L242.56,1140.87 L245.09,1140.91 L247.61,1140.95 L250.13,1141 L252.66,1141.04 L255.18,1141.08 L257.7,1141.13 L260.23,1141.17 L262.75,1141.21 L265.27,1141.26 L267.8,1141.3 L270.32,1141.34 L272.84,1141.39 L275.37,1141.43 L277.89,1141.48 L280.41,1141.52 L282.94,1141.56 L285.46,1141.61 L287.98,1141.65 L290.51,1141.69 L293.03,1141.74 L295.56,1141.78 L298.08,1141.82 L300.6,1141.87 L303.13,1141.91 L305.65,1141.95 L308.17,1142 L310.7,1142.04 L313.22,1142.09 L315.74,1142.13 L318.27,1142.17 L320.79,1142.22 L323.31,1142.26 L325.84,1142.3 L328.36,1142.35 L330.88,1142.39 L333.41,1142.43 L335.93,1142.48 L338.45,1142.52 L340.98,1142.56 L343.5,1142.61 L346.03,1142.64 L348.55,1142.66 L351.07,1142.69 L353.6,1142.71 L356.12,1142.73 L358.64,1142.75 L361.17,1142.77 L363.69,1142.79 L366.21,1142.81 L368.74,1142.84 L371.26,1142.86 L373.78,1142.88 L376.31,1142.9 L378.83,1142.92 L381.35,1142.94 L383.88,1142.96 L386.4,1142.99 L388.92,1143.01 L391.45,1143.03 L393.97,1143.05 L396.5,1143.07 L399.02,1143.09 L401.54,1143.11 L404.07,1143.14 L406.59,1143.16 L409.11,1143.18 L411.64,1143.2 L414.16,1143.22 L416.68,1143.24 L419.21,1143.26 L421.73,1143.29 L424.25,1143.31 L426.78,1143.33 L429.3,1143.35 L431.82,1143.37 L434.35,1143.39 L436.87,1143.41 L439.39,1143.44 L441.92,1143.46 L444.44,1143.48 L446.97,1143.5 L449.49,1143.52 L452.01,1143.54 L454.54,1143.56 L457.06,1143.59 L459.58,1143.61 L462.11,1143.63 L464.63,1143.65 L467.15,1143.67 L469.68,1143.69 L472.2,1143.71 L474.72,1143.74 L477.25,1143.76 L479.77,1143.78 L482.29,1143.8 L484.82,1143.82 L487.34,1143.84 L489.86,1143.86 L492.39,1143.89 L494.91,1143.91 L497.44,1143.93 L499.96,1143.95 L502.48,1143.97 L505.01,1143.99 L507.53,1143.93 L510.05,1143.87 L512.58,1143.81 L515.1,1143.75 L517.62,1143.68 L520.15,1143.62 L522.67,1143.56 L525.19,1143.5 L527.72,1143.44 L530.24,1143.38 L532.76,1143.31 L535.29,1143.25 L537.81,1143.19 L540.34,1143.13 L542.86,1143.07 L545.38,1143 L547.91,1142.94 L550.43,1142.88 L552.95,1142.82 L555.48,1142.76 L558,1142.7 L560.52,1142.63 L563.05,1142.57 L565.57,1142.51 L568.09,1142.45 L570.62,1142.39 L573.14,1142.32 L575.66,1142.26 L578.19,1142.2 L580.71,1142.09 L583.23,1141.96 L585.76,1141.83 L588.28,1141.7 L590.8,1141.57 L593.33,1141.44 L595.85,1141.3 L598.38,1141.17 L600.9,1141.04 L603.42,1140.91 L605.95,1140.78 L608.47,1140.65 L610.99,1140.52 L613.52,1140.39 L616.04,1140.25 L618.56,1140.12 L621.09,1139.99 L623.61,1139.86 L626.13,1139.73 L628.66,1139.6 L631.18,1139.47 L633.7,1139.34 L636.23,1139.2 L638.75,1139.07 L641.27,1138.66 L643.8,1137.98 L646.32,1137.29 L648.85,1136.6 L651.37,1135.68 L653.89,1134.57 L656.42,1133.44 L658.94,1132.33 L661.46,1131.16 L663.99,1129.48 L666.51,1127.81 L669.03,1126.13 L671.56,1124.45 L674.08,1122.78 L676.6,1120.94 L679.13,1118.07 L681.65,1115.22 L684.17,1112.36 L686.7,1109.88 L689.22,1109.16 L691.75,1108.44 L694.27,1107.72 L696.79,1105.21 L699.32,1101.95 L701.84,1098.71 L704.36,1095.46 L706.89,1092.21 L709.41,1087.47 L711.93,1082.24 L714.46,1077" fill="none" stroke="#1f77b4" stroke-width="2.08" stroke-linejoin="round"/>
<path d="M716.98,1076.49 L719.5,1073.18 L722.03,1069.86 L724.55,1066.54 L727.07,1063.19 L729.6,1058.17 L732.12,1053.17 L734.64,1048.18 L737.17,1040.58 L739.69,1032.58 L742.22,1024.86 L744.74,1020.29 L747.26,1015.72 L749.79,1008.41 L752.31,997.56 L754.83,991.75 L757.36,985.93 L759.88,980.13 L762.4,973.47 L764.93,966.34 L767.45,959.23 L769.97,938.94 L772.5,931.38 L775.02,923.77 L777.54,916.08 L780.07,891.42 L782.59,886.47 L785.11,871.96" fill="none" stroke="#1f77b4" stroke-width="2.08" stroke-linejoin="round"/>
<path d="M63.64,1145.5a4.86,4.86 0 1,0 9.72,0a4.86,4.86 0 1,0 -9.72,0M66.64,1145.5a4.86,4.86 0 1,0 9.72,0a4.86,4.86 0 1,0 -9.72,0M68.64,1145.5a4.86,4.86 0 1,0 9.72,0a4.86,4.86 0 1,0 -9.72,0M71.64,1145.5a4.86,4.86 0 1,0 9.72,0a4.86,4.86 0 1,0 -9.72,0M74.64,1145.5a4.86,4.86 0 1,0 9.72,0a4.86,4.86 0 1,0 -9.72,0M76.64,1145.5a4.86,4.86 0 1,0 9.72,0a4.86,4.86 0 1,0 -9.72,0M79.64,1145.5a4.86,4.86 0 1,0 9.72,0a4.86,4.86 0 1,0 -9.72,0M81.64,1145.5a4.86,4.86 0 1,0 9.72,0a4.86,4.86 0 1,0 -9.72,0M84.64,1145.5a4.86,4.86 0 1,0 9.72,0a4.86,4.86 0 1,0 -9.72,0M86.64,1145.5a4.86,4.86 0 1,0 9.72,0a4.86,4.86 0 1,0 -9.72,0M89.64,1145.5a4.86,4.86 0 1,0 9.72,0a4.86,4.86 0 1,0 -9.72,0M91.64,1145.5a4.86,4.86 0 1,0 9.72,0a4.86,4.86 0 1,0 -9.72,0M94.64,1145.5a4.86,4.86 0 1,0 9.72,0a4.86,4.86 0 1,0 -9.72,0M96.64,1145.5a4.86,4.86 0 1,0 9.72,0a4.86,4.86 0 1,0 -9.72,0M99.64,1145.5a4.86,4.86 0 1,0 9.72,0a4.86,4.86 0 1,0 -9.72,0M101.64,1145.5a4.86,4.86 0 1,0 9.72,0a4.86,4.86 0 1,0 -9.72,0M104.64,1145.5a4.86,4.86 0 1,0 9.72,0a4.86,4.86 0 1,0 -9.72,0M106.64,1145.5a4.86,4.86 0 1,0 9.72,0a4.86,4.86 0 1,0 -9.72,0M109.64,1145.5a4.86,4.86 0 1,0 9.72,0a4.86,4.86 0 1,0 -9.72,0M111.64,1140.5a4.86,4.86 0 1,0 9.72,0a4.86,4.86 0 1,0 -9.72,0M114.64,1140.5a4.86,4.86 0 1,0 9.72,0a4.86,4.86 0 1,0 -9.72,0M116.64,1140.5a4.86,4.86 0 1,0 9.72,0a4.86,4.86 0 1,0 -9.72,0M119.64,1140.5a4.86,4.86 0 1,0 9.72,0a4.86,4.86 0 1,0 -9.72,0M121.64,1140.5a4.86,4.86 0 1,0 9.72,0a4.86,4.86 0 1,0 -9.72,0M124.64,1140.5a4.86,4.86 0 1,0 9.72,0a4.86,4.86 0 1,0 -9.72,0M127.64,1145.5a4.86,4.86 0 1,0 9.72,0a4.86,4.86 0 1,0 -9.72,0M129.64,1145.5a4.86,4.86 0 1,0 9.72,0a4.86,4.86 0 1,0 -9.72,0M132.64,1145.5a4.86,4.86 0 1,0 9.72,0a4.86,4.86 0 1,0 -9.72,0M134.64,1140.5a4.86,4.86 0 1,0 9.72,0a4.86,4.86 0 1,0 -9.72,0M137.64,1140.5a4.86,4.86 0 1,0 9.72,0a4.86,4.86 0 1,0 -9.72,0M139.64,1140.5a4.86,4.86 0 1,0 9.72,0a4.86,4.86 0 1,0 -9.72,0M142.64,1140.5a4.86,4.86 0 1,0 9.72,0a4.86,4.86 0 1,0 -9.72,0M144.64,1140.5a4.86,4.86 0 1,0 9.72,0a4.86,4.86 0 1,0 -9.72,0M147.64,1145.5a4.86,4.86 0 1,0 9.72,0a4.86,4.86 0 1,0 -9.72,0M149.64,1140.5a4.86,4.86 0 1,0 9.72,0a4.86,4.86 0 1,0 -9.72,0M152.64,1140.5a4.86,4.86 0 1,0 9.72,0a4.86,4.86 0 1,0 -9.72,0M154.64,1140.5a4.86,4.86 0 1,0 9.72,0a4.86,4.86 0 1,0 -9.72,0M157.64,1140.5a4.86,4.86 0 1,0 9.72,0a4.86,4.86 0 1,0 -9.72,0M159.64,1140.5a4.86,4.86 0 1,0 9.72,0a4.86,4.86 0 1,0 -9.72,0M162.64,1140.5a4.86,4.86 0 1,0 9.72,0a4.86,4.86 0 1,0 -9.72,0M164.64,1140.5a4.86,4.86 0 1,0 9.72,0a4.86,4.86 0 1,0 -9.72,0M167.64,1140.5a4.86,4.86 0 1,0 9.72,0a4.86,4.86 0 1,0 -9.72,0M169.64,1140.5a4.86,4.86 0 1,0 9.72,0a4.86,4.86 0 1,0 -9.72,0M172.64,1140.5a4.86,4.86 0 1,0 9.72,0a4.86,4.86 0 1,0 -9.72,0M174.64,1140.5a4.86,4.86 0 1,0 9.72,0a4.86,4.86 0 1,0 -9.72,0M177.64,1140.5a4.86,4.86 0 1,0 9.72,0a4.86,4.86 0 1,0 -9.72,0M180.64,1140.5a4.86,4.86 0 1,0 9.72,0a4.86,4.86 0 1,0 -9.72,0M182.64,1140.5a4.86,4.86 0 1,0 9.72,0a4.86,4.86 0 1,0 -9.72,0M185.64,1140.5a4.86,4.86 0 1,0 9.72,0a4.86,4.86 0 1,0 -9.72,0M187.64,1140.5a4.86,4.86 0 1,0 9.72,0a4.86,4.86 0 1,0 -9.72,0M190.64,1140.5a4.86,4.86 0 1,0 9.72,0a4.86,4.86 0 1,0 -9.72,0M192.64,1140.5a4.86,4.86 0 1,0 9.72,0a4.86,4.86 0 1,0 -9.72,0M195.64,1140.5a4.86,4.86 0 1,0 9.72,0a4.86,4.86 0 1,0 -9.72,0M197.64,1140.5a4.86,4.86 0 1,0 9.72,0a4.86,4.86 0 1,0 -9.72,0M200.64,1145.5a4.86,4.86 0 1,0 9.72,0a4.86,4.86 0 1,0 -9.72,0M202.64,1145.5a4.86,4.86 0 1,0 9.72,0a4.86,4.86 0 1,0 -9.72,0M205.64,1145.5a4.86,4.86 0 1,0 9.72,0a4.86,4.86 0 1,0 -9.72,0M207.64,1145.5a4.86,4.86 0 1,0 9.72,0a4.86,4.86 0 1,0 -9.72,0M210.64,1140.5a4.86,4.86 0 1,0 9.72,0a4.86,4.86 0 1,0 -9.72,0M212.64,1140.5a4.86,4.86 0 1,0 9.72,0a4.86,4.86 0 1,0 -9.72,0M215.64,1140.5a4.86,4.86 0 1,0 9.72,0a4.86,4.86 0 1,0 -9.72,0M217.64,1145.5a4.86,4.86 0 1,0 9.72,0a4.86,4.86 0 1,0 -9.72,0M220.64,1140.5a4.86,4.86 0 1,0 9.72,0a4.86,4.86 0 1,0 -9.72,0M222.64,1140.5a4.86,4.86 0 1,0 9.72,0a4.86,4.86 0 1,0 -9.72,0M225.64,1140.5a4.86,4.86 0 1,0 9.72,0a4.86,4.86 0 1,0 -9.72,0M227.64,1140.5a4.86,4.86 0 1,0 9.72,0a4.86,4.86 0 1,0 -9.72,0M230.64,1140.5a4.86,4.86 0 1,0 9.72,0a4.86,4.86 0 1,0 -9.72,0M233.64,1140.5a4.86,4.86 0 1,0 9.72,0a4.86,4.86 0 1,0 -9.72,0M235.64,1140.5a4.86,4.86 0 1,0 9.72,0a4.86,4.86 0 1,0 -9.72,0M238.64,1145.5a4.86,4.86 0 1,0 9.72,0a4.86,4.86 0 1,0 -9.72,0M240.64,1145.5a4.86,4.86 0 1,0 9.72,0a4.86,4.86 0 1,0 -9.72,0M243.64,1140.5a4.86,4.86 0 1,0 9.72,0a4.86,4.86 0 1,0 -9.72,0M245.64,1140.5a4.86,4.86 0 1,0 9.72,0a4.86,4.86 0 1,0 -9.72,0M248.64,1140.5a4.86,4.86 0 1,0 9.72,0a4.86,4.86 0 1,0 -9.72,0M250.64,1140.5a4.86,4.86 0 1,0 9.72,0a4.86,4.86 0 1,0 -9.72,0M253.64,1140.5a4.86,4.86 0 1,0 9.72,0a4.86,4.86 0 1,0 -9.72,0M255.64,1140.5a4.86,4.86 0 1,0 9.72,0a4.86,4.86 0 1,0 -9.72,0M258.64,1140.5a4.86,4.86 0 1,0 9.72,0a4.86,4.86 0 1,0 -9.72,0M260.64,1145.5a4.86,4.86 0 1,0 9.72,0a4.86,4.86 0 1,0 -9.72,0M263.64,1145.5a4.86,4.86 0 1,0 9.72,0a4.86,4.86 0 1,0 -9.72,0M265.64,1140.5a4.86,4.86 0 1,0 9.72,0a4.86,4.86 0 1,0 -9.72,0M268.64,1140.5a4.86,4.86 0 1,0 9.72,0a4.86,4.86 0 1,0 -9.72,0M270.64,1140.5a4.86,4.86 0 1,0 9.72,0a4.86,4.86 0 1,0 -9.72,0M273.64,1140.5a4.86,4.86 0 1,0 9.72,0a4.86,4.86 0 1,0 -9.72,0M275.64,1140.5a4.86,4.86 0 1,0 9.72,0a4.86,4.86 0 1,0 -9.72,0M278.64,1140.5a4.86,4.86 0 1,0 9.72,0a4.86,4.86 0 1,0 -9.72,0M280.64,1140.5a4.86,4.86 0 1,0 9.72,0a4.86,4.86 0 1,0 -9.72,0M283.64,1140.5a4.86,4.86 0 1,0 9.72,0a4.86,4.86 0 1,0 -9.72,0M286.64,1140.5a4.86,4.86 0 1,0 9.72,0a4.86,4.86 0 1,0 -9.72,0M288.64,1140.5a4.86,4.86 0 1,0 9.72,0a4.86,4.86 0 1,0 -9.72,0M291.64,1140.5a4.86,4.86 0 1,0 9.72,0a4.86,4.86 0 1,0 -9.72,0M293.64,1145.5a4.86,4.86 0 1,0 9.72,0a4.86,4.86 0 1,0 -9.72,0M296.64,1145.5a4.86,4.86 0 1,0 9.72,0a4.86,4.86 0 1,0 -9.72,0M298.64,1145.5a4.86,4.86 0 1,0 9.72,0a4.86,4.86 0 1,0 -9.72,0M301.64,1145.5a4.86,4.86 0 1,0 9.72,0a4.86,4.86 0 1,0 -9.72,0M303.64,1145.5a4.86,4.86 0 1,0 9.72,0a4.86,4.86 0 1,0 -9.72,0M306.64,1145.5a4.86,4.86 0 1,0 9.72,0a4.86,4.86 0 1,0 -9.72,0M308.64,1145.5a4.86,4.86 0 1,0 9.72,0a4.86,4.86 0 1,0 -9.72,0M311.64,1145.5a4.86,4.86 0 1,0 9.72,0a4.86,4.86 0 1,0 -9.72,0M313.64,1140.5a4.86,4.86 0 1,0 9.72,0a4.86,4.86 0 1,0 -9.72,0M316.64,1140.5a4.86,4.86 0 1,0 9.72,0a4.86,4.86 0 1,0 -9.72,0M318.64,1145.5a4.86,4.86 0 1,0 9.72,0a4.86,4.86 0 1,0 -9.72,0M321.64,1140.5a4.86,4.86 0 1,0 9.72,0a4.86,4.86 0 1,0 -9.72,0M323.64,1140.5a4.86,4.86 0 1,0 9.72,0a4.86,4.86 0 1,0 -9.72,0M326.64,1140.5a4.86,4.86 0 1,0 9.72,0a4.86,4.86 0 1,0 -9.72,0M328.64,1145.5a4.86,4.86 0 1,0 9.72,0a4.86,4.86 0 1,0 -9.72,0M331.64,1145.5a4.86,4.86 0 1,0 9.72,0a4.86,4.86 0 1,0 -9.72,0M333.64,1145.5a4.86,4.86 0 1,0 9.72,0a4.86,4.86 0 1,0 -9.72,0M336.64,1145.5a4.86,4.86 0 1,0 9.72,0a4.86,4.86 0 1,0 -9.72,0M339.64,1145.5a4.86,4.86 0 1,0 9.72,0a4.86,4.86 0 1,0 -9.72,0M341.64,1145.5a4.86,4.86 0 1,0 9.72,0a4.86,4.86 0 1,0 -9.72,0M344.64,1145.5a4.86,4.86 0 1,0 9.72,0a4.86,4.86 0 1,0 -9.72,0M346.64,1145.5a4.86,4.86 0 1,0 9.72,0a4.86,4.86 0 1,0 -9.72,0M349.64,1145.5a4.86,4.86 0 1,0 9.72,0a4.86,4.86 0 1,0 -9.72,0M351.64,1145.5a4.86,4.86 0 1,0 9.72,0a4.86,4.86 0 1,0 -9.72,0M354.64,1145.5a4.86,4.86 0 1,0 9.72,0a4.86,4.86 0 1,0 -9.72,0M356.64,1145.5a4.86,4.86 0 1,0 9.72,0a4.86,4.86 0 1,0 -9.72,0M359.64,1145.5a4.86,4.86 0 1,0 9.72,0a4.86,4.86 0 1,0 -9.72,0M361.64,1145.5a4.86,4.86 0 1,0 9.72,0a4.86,4.86 0 1,0 -9.72,0M364.64,1145.5a4.86,4.86 0 1,0 9.72,0a4.86,4.86 0 1,0 -9.72,0M366.64,1145.5a4.86,4.86 0 1,0 9.72,0a4.86,4.86 0 1,0 -9.72,0M369.64,1145.5a4.86,4.86 0 1,0 9.72,0a4.86,4.86 0 1,0 -9.72,0M371.64,1145.5a4.86,4.86 0 1,0 9.72,0a4.86,4.86 0 1,0 -9.72,0M374.64,1145.5a4.86,4.86 0 1,0 9.72,0a4.86,4.86 0 1,0 -9.72,0M376.64,1145.5a4.86,4.86 0 1,0 9.72,0a4.86,4.86 0 1,0 -9.72,0M379.64,1145.5a4.86,4.86 0 1,0 9.72,0a4.86,4.86 0 1,0 -9.72,0M381.64,1145.5a4.86,4.86 0 1,0 9.72,0a4.86,4.86 0 1,0 -9.72,0M384.64,1145.5a4.86,4.86 0 1,0 9.72,0a4.86,4.86 0 1,0 -9.72,0M386.64,1145.5a4.86,4.86 0 1,0 9.72,0a4.86,4.86 0 1,0 -9.72,0M389.64,1145.5a4.86,4.86 0 1,0 9.72,0a4.86,4.86 0 1,0 -9.72,0M391.64,1145.5a4.86,4.86 0 1,0 9.72,0a4.86,4.86 0 1,0 -9.72,0M394.64,1145.5a4.86,4.86 0 1,0 9.72,0a4.86,4.86 0 1,0 -9.72,0M397.64,1145.5a4.86,4.86 0 1,0 9.72,0a4.86,4.86 0 1,0 -9.72,0M399.64,1145.5a4.86,4.86 0 1,0 9.72,0a4.86,4.86 0 1,0 -9.72,0M402.64,1145.5a4.86,4.86 0 1,0 9.72,0a4.86,4.86 0 1,0 -9.72,0M404.64,1145.5a4.86,4.86 0 1,0 9.72,0a4.86,4.86 0 1,0 -9.72,0M407.64,1145.5a4.86,4.86 0 1,0 9.72,0a4.86,4.86 0 1,0 -9.72,0M409.64,1145.5a4.86,4.86 0 1,0 9.72,0a4.86,4.86 0 1,0 -9.72,0M412.64,1145.5a4.86,4.86 0 1,0 9.72,0a4.86,4.86 0 1,0 -9.72,0M414.64,1145.5a4.86,4.86 0 1,0 9.72,0a4.86,4.86 0 1,0 -9.72,0M417.64,1145.5a4.86,4.86 0 1,0 9.72,0a4.86,4.86 0 1,0 -9.72,0M419.64,1145.5a4.86,4.86 0 1,0 9.72,0a4.86,4.86 0 1,0 -9.72,0M422.64,1145.5a4.86,4.86 0 1,0 9.72,0a4.86,4.86 0 1,0 -9.72,0M424.64,1145.5a4.86,4.86 0 1,0 9.72,0a4.86,4.86 0 1,0 -9.72,0M427.64,1145.5a4.86,4.86 0 1,0 9.72,0a4.86,4.86 0 1,0 -9.72,0M429.64,1145.5a4.86,4.86 0 1,0 9.72,0a4.86,4.86 0 1,0 -9.72,0M432.64,1145.5a4.86,4.86 0 1,0 9.72,0a4.86,4.86 0 1,0 -9.72,0M434.64,1145.5a4.86,4.86 0 1,0 9.72,0a4.86,4.86 0 1,0 -9.72,0M437.64,1145.5a4.86,4.86 0 1,0 9.72,0a4.86,4.86 0 1,0 -9.72,0M439.64,1145.5a4.86,4.86 0 1,0 9.72,0a4.86,4.86 0 1,0 -9.72,0M442.64,1145.5a4.86,4.86 0 1,0 9.72,0a4.86,4.86 0 1,0 -9.72,0M444.64,1145.5a4.86,4.86 0 1,0 9.72,0a4.86,4.86 0 1,0 -9.72,0M447.64,1145.5a4.86,4.86 0 1,0 9.72,0a4.86,4.86 0 1,0 -9.72,0M450.64,1145.5a4.86,4.86 0 1,0 9.72,0a4.86,4.86 0 1,0 -9.72,0M452.64,1145.5a4.86,4.86 0 1,0 9.72,0a4.86,4.86 0 1,0 -9.72,0M455.64,1145.5a4.86,4.86 0 1,0 9.72,0a4.86,4.86 0 1,0 -9.72,0M457.64,1145.5a4.86,4.86 0 1,0 9.72,0a4.86,4.86 0 1,0 -9.72,0M460.64,1145.5a4.86,4.86 0 1,0 9.72,0a4.86,4.86 0 1,0 -9.72,0M462.64,1145.5a4.86,4.86 0 1,0 9.72,0a4.86,4.86 0 1,0 -9.72,0M465.64,1145.5a4.86,4.86 0 1,0 9.72,0a4.86,4.86 0 1,0 -9.72,0M467.64,1145.5a4.86,4.86 0 1,0 9.72,0a4.86,4.86 0 1,0 -9.72,0M470.64,1145.5a4.86,4.86 0 1,0 9.72,0a4.86,4.86 0 1,0 -9.72,0M472.64,1145.5a4.86,4.86 0 1,0 9.72,0a4.86,4.86 0 1,0 -9.72,0M475.64,1145.5a4.86,4.86 0 1,0 9.72,0a4.86,4.86 0 1,0 -9.72,0M477.64,1145.5a4.86,4.86 0 1,0 9.72,0a4.86,4.86 0 1,0 -9.72,0M480.64,1145.5a4.86,4.86 0 1,0 9.72,0a4.86,4.86 0 1,0 -9.72,0M482.64,1145.5a4.86,4.86 0 1,0 9.72,0a4.86,4.86 0 1,0 -9.72,0M485.64,1145.5a4.86,4.86 0 1,0 9.72,0a4.86,4.86 0 1,0 -9.72,0M487.64,1140.5a4.86,4.86 0 1,0 9.72,0a4.86,4.86 0 1,0 -9.72,0M490.64,1140.5a4.86,4.86 0 1,0 9.72,0a4.86,4.86 0 1,0 -9.72,0M492.64,1140.5a4.86,4.86 0 1,0 9.72,0a4.86,4.86 0 1,0 -9.72,0M495.64,1140.5a4.86,4.86 0 1,0 9.72,0a4.86,4.86 0 1,0 -9.72,0M497.64,1140.5a4.86,4.86 0 1,0 9.72,0a4.86,4.86 0 1,0 -9.72,0M500.64,1140.5a4.86,4.86 0 1,0 9.72,0a4.86,4.86 0 1,0 -9.72,0M503.64,1140.5a4.86,4.86 0 1,0 9.72,0a4.86,4.86 0 1,0 -9.72,0M505.64,1145.5a4.86,4.86 0 1,0 9.72,0a4.86,4.86 0 1,0 -9.72,0M508.64,1145.5a4.86,4.86 0 1,0 9.72,0a4.86,4.86 0 1,0 -9.72,0M510.64,1145.5a4.86,4.86 0 1,0 9.72,0a4.86,4.86 0 1,0 -9.72,0M513.64,1145.5a4.86,4.86 0 1,0 9.72,0a4.86,4.86 0 1,0 -9.72,0M515.64,1145.5a4.86,4.86 0 1,0 9.72,0a4.86,4.86 0 1,0 -9.72,0M518.64,1145.5a4.86,4.86 0 1,0 9.72,0a4.86,4.86 0 1,0 -9.72,0M520.64,1145.5a4.86,4.86 0 1,0 9.72,0a4.86,4.86 0 1,0 -9.72,0M523.64,1145.5a4.86,4.86 0 1,0 9.72,0a4.86,4.86 0 1,0 -9.72,0M525.64,1145.5a4.86,4.86 0 1,0 9.72,0a4.86,4.86 0 1,0 -9.72,0M528.64,1145.5a4.86,4.86 0 1,0 9.72,0a4.86,4.86 0 1,0 -9.72,0M530.64,1145.5a4.86,4.86 0 1,0 9.72,0a4.86,4.86 0 1,0 -9.72,0M533.64,1145.5a4.86,4.86 0 1,0 9.72,0a4.86,4.86 0 1,0 -9.72,0M535.64,1145.5a4.86,4.86 0 1,0 9.72,0a4.86,4.86 0 1,0 -9.72,0M538.64,1145.5a4.86,4.86 0 1,0 9.72,0a4.86,4.86 0 1,0 -9.72,0M540.64,1145.5a4.86,4.86 0 1,0 9.72,0a4.86,4.86 0 1,0 -9.72,0M543.64,1145.5a4.86,4.86 0 1,0 9.72,0a4.86,4.86 0 1,0 -9.72,0M545.64,1140.5a4.86,4.86 0 1,0 9.72,0a4.86,4.86 0 1,0 -9.72,0M548.64,1140.5a4.86,4.86 0 1,0 9.72,0a4.86,4.86 0 1,0 -9.72,0M550.64,1140.5a4.86,4.86 0 1,0 9.72,0a4.86,4.86 0 1,0 -9.72,0M553.64,1140.5a4.86,4.86 0 1,0 9.72,0a4.86,4.86 0 1,0 -9.72,0M556.64,1145.5a4.86,4.86 0 1,0 9.72,0a4.86,4.86 0 1,0 -9.72,0M558.64,1145.5a4.86,4.86 0 1,0 9.72,0a4.86,4.86 0 1,0 -9.72,0M561.64,1145.5a4.86,4.86 0 1,0 9.72,0a4.86,4.86 0 1,0 -9.72,0M563.64,1145.5a4.86,4.86 0 1,0 9.72,0a4.86,4.86 0 1,0 -9.72,0M566.64,1145.5a4.86,4.86 0 1,0 9.72,0a4.86,4.86 0 1,0 -9.72,0M568.64,1145.5a4.86,4.86 0 1,0 9.72,0a4.86,4.86 0 1,0 -9.72,0M571.64,1145.5a4.86,4.86 0 1,0 9.72,0a4.86,4.86 0 1,0 -9.72,0M573.64,1140.5a4.86,4.86 0 1,0 9.72,0a4.86,4.86 0 1,0 -9.72,0M576.64,1140.5a4.86,4.86 0 1,0 9.72,0a4.86,4.86 0 1,0 -9.72,0M578.64,1140.5a4.86,4.86 0 1,0 9.72,0a4.86,4.86 0 1,0 -9.72,0M581.64,1140.5a4.86,4.86 0 1,0 9.72,0a4.86,4.86 0 1,0 -9.72,0M583.64,1140.5a4.86,4.86 0 1,0 9.72,0a4.86,4.86 0 1,0 -9.72,0M586.64,1140.5a4.86,4.86 0 1,0 9.72,0a4.86,4.86 0 1,0 -9.72,0M588.64,1140.5a4.86,4.86 0 1,0 9.72,0a4.86,4.86 0 1,0 -9.72,0M591.64,1140.5a4.86,4.86 0 1,0 9.72,0a4.86,4.86 0 1,0 -9.72,0M593.64,1145.5a4.86,4.86 0 1,0 9.72,0a4.86,4.86 0 1,0 -9.72,0M596.64,1145.5a4.86,4.86 0 1,0 9.72,0a4.86,4.86 0 1,0 -9.72,0M598.64,1140.5a4.86,4.86 0 1,0 9.72,0a4.86,4.86 0 1,0 -9.72,0M601.64,1140.5a4.86,4.86 0 1,0 9.72,0a4.86,4.86 0 1,0 -9.72,0M603.64,1140.5a4.86,4.86 0 1,0 9.72,0a4.86,4.86 0 1,0 -9.72,0M606.64,1140.5a4.86,4.86 0 1,0 9.72,0a4.86,4.86 0 1,0 -9.72,0M609.64,1140.5a4.86,4.86 0 1,0 9.72,0a4.86,4.86 0 1,0 -9.72,0M611.64,1140.5a4.86,4.86 0 1,0 9.72,0a4.86,4.86 0 1,0 -9.72,0M614.64,1140.5a4.86,4.86 0 1,0 9.72,0a4.86,4.86 0 1,0 -9.72,0M616.64,1140.5a4.86,4.86 0 1,0 9.72,0a4.86,4.86 0 1,0 -9.72,0M619.64,1140.5a4.86,4.86 0 1,0 9.72,0a4.86,4.86 0 1,0 -9.72,0M621.64,1140.5a4.86,4.86 0 1,0 9.72,0a4.86,4.86 0 1,0 -9.72,0M624.64,1140.5a4.86,4.86 0 1,0 9.72,0a4.86,4.86 0 1,0 -9.72,0M344.64,1140.5a4.86,4.86 0 1,0 9.72,0a4.86,4.86 0 1,0 -9.72,0M366.64,1140.5a4.86,4.86 0 1,0 9.72,0a4.86,4.86 0 1,0 -9.72,0M408.64,1140.5a4.86,4.86 0 1,0 9.72,0a4.86,4.86 0 1,0 -9.72,0M453.64,1140.5a4.86,4.86 0 1,0 9.72,0a4.86,4.86 0 1,0 -9.72,0M510.64,1140.5a4.86,4.86 0 1,0 9.72,0a4.86,4.86 0 1,0 -9.72,0M134.64,1136.5a4.86,4.86 0 1,0 9.72,0a4.86,4.86 0 1,0 -9.72,0M148.64,1136.5a4.86,4.86 0 1,0 9.72,0a4.86,4.86 0 1,0 -9.72,0M170.64,1127.5a4.86,4.86 0 1,0 9.72,0a4.86,4.86 0 1,0 -9.72,0M183.64,1131.5a4.86,4.86 0 1,0 9.72,0a4.86,4.86 0 1,0 -9.72,0M198.64,1136.5a4.86,4.86 0 1,0 9.72,0a4.86,4.86 0 1,0 -9.72,0M239.64,1131.5a4.86,4.86 0 1,0 9.72,0a4.86,4.86 0 1,0 -9.72,0M245.64,1136.5a4.86,4.86 0 1,0 9.72,0a4.86,4.86 0 1,0 -9.72,0M253.64,1136.5a4.86,4.86 0 1,0 9.72,0a4.86,4.86 0 1,0 -9.72,0M273.64,1136.5a4.86,4.86 0 1,0 9.72,0a4.86,4.86 0 1,0 -9.72,0M283.64,1136.5a4.86,4.86 0 1,0 9.72,0a4.86,4.86 0 1,0 -9.72,0M306.64,1136.5a4.86,4.86 0 1,0 9.72,0a4.86,4.86 0 1,0 -9.72,0M578.64,1136.5a4.86,4.86 0 1,0 9.72,0a4.86,4.86 0 1,0 -9.72,0M586.64,1136.5a4.86,4.86 0 1,0 9.72,0a4.86,4.86 0 1,0 -9.72,0M601.64,1136.5a4.86,4.86 0 1,0 9.72,0a4.86,4.86 0 1,0 -9.72,0M609.64,1136.5a4.86,4.86 0 1,0 9.72,0a4.86,4.86 0 1,0 -9.72,0M621.64,1136.5a4.86,4.86 0 1,0 9.72,0a4.86,4.86 0 1,0 -9.72,0M627.64,1140.5a4.86,4.86 0 1,0 9.72,0a4.86,4.86 0 1,0 -9.72,0M629.64,1127.5a4.86,4.86 0 1,0 9.72,0a4.86,4.86 0 1,0 -9.72,0M635.64,1131.5a4.86,4.86 0 1,0 9.72,0a4.86,4.86 0 1,0 -9.72,0M637.64,1140.5a4.86,4.86 0 1,0 9.72,0a4.86,4.86 0 1,0 -9.72,0M643.64,1136.5a4.86,4.86 0 1,0 9.72,0a4.86,4.86 0 1,0 -9.72,0M644.64,1131.5a4.86,4.86 0 1,0 9.72,0a4.86,4.86 0 1,0 -9.72,0M650.64,1127.5a4.86,4.86 0 1,0 9.72,0a4.86,4.86 0 1,0 -9.72,0M652.64,1131.5a4.86,4.86 0 1,0 9.72,0a4.86,4.86 0 1,0 -9.72,0M655.64,1140.5a4.86,4.86 0 1,0 9.72,0a4.86,4.86 0 1,0 -9.72,0M656.64,1118.5a4.86,4.86 0 1,0 9.72,0a4.86,4.86 0 1,0 -9.72,0M660.64,1136.5a4.86,4.86 0 1,0 9.72,0a4.86,4.86 0 1,0 -9.72,0M662.64,1122.5a4.86,4.86 0 1,0 9.72,0a4.86,4.86 0 1,0 -9.72,0M667.64,1127.5a4.86,4.86 0 1,0 9.72,0a4.86,4.86 0 1,0 -9.72,0M670.64,1118.5a4.86,4.86 0 1,0 9.72,0a4.86,4.86 0 1,0 -9.72,0M672.64,1109.5a4.86,4.86 0 1,0 9.72,0a4.86,4.86 0 1,0 -9.72,0M674.64,1131.5a4.86,4.86 0 1,0 9.72,0a4.86,4.86 0 1,0 -9.72,0M678.64,1127.5a4.86,4.86 0 1,0 9.72,0a4.86,4.86 0 1,0 -9.72,0M680.64,1095.5a4.86,4.86 0 1,0 9.72,0a4.86,4.86 0 1,0 -9.72,0M683.64,1118.5a4.86,4.86 0 1,0 9.72,0a4.86,4.86 0 1,0 -9.72,0M685.64,1136.5a4.86,4.86 0 1,0 9.72,0a4.86,4.86 0 1,0 -9.72,0M686.64,1113.5a4.86,4.86 0 1,0 9.72,0a4.86,4.86 0 1,0 -9.72,0M689.64,1100.5a4.86,4.86 0 1,0 9.72,0a4.86,4.86 0 1,0 -9.72,0M695.64,1109.5a4.86,4.86 0 1,0 9.72,0a4.86,4.86 0 1,0 -9.72,0M698.64,1068.5a4.86,4.86 0 1,0 9.72,0a4.86,4.86 0 1,0 -9.72,0M699.64,1100.5a4.86,4.86 0 1,0 9.72,0a4.86,4.86 0 1,0 -9.72,0M703.64,1095.5a4.86,4.86 0 1,0 9.72,0a4.86,4.86 0 1,0 -9.72,0M705.64,1081.5a4.86,4.86 0 1,0 9.72,0a4.86,4.86 0 1,0 -9.72,0M708.64,1068.5a4.86,4.86 0 1,0 9.72,0a4.86,4.86 0 1,0 -9.72,0M713.64,1081.5a4.86,4.86 0 1,0 9.72,0a4.86,4.86 0 1,0 -9.72,0M714.64,1054.5a4.86,4.86 0 1,0 9.72,0a4.86,4.86 0 1,0 -9.72,0M717.64,1050.5a4.86,4.86 0 1,0 9.72,0a4.86,4.86 0 1,0 -9.72,0M720.64,1041.5a4.86,4.86 0 1,0 9.72,0a4.86,4.86 0 1,0 -9.72,0M722.64,1059.5a4.86,4.86 0 1,0 9.72,0a4.86,4.86 0 1,0 -9.72,0M725.64,1054.5a4.86,4.86 0 1,0 9.72,0a4.86,4.86 0 1,0 -9.72,0M727.64,1023.5a4.86,4.86 0 1,0 9.72,0a4.86,4.86 0 1,0 -9.72,0M731.64,1054.5a4.86,4.86 0 1,0 9.72,0a4.86,4.86 0 1,0 -9.72,0M733.64,1063.5a4.86,4.86 0 1,0 9.72,0a4.86,4.86 0 1,0 -9.72,0M735.64,1045.5a4.86,4.86 0 1,0 9.72,0a4.86,4.86 0 1,0 -9.72,0M738.64,1023.5a4.86,4.86 0 1,0 9.72,0a4.86,4.86 0 1,0 -9.72,0M741.64,1041.5a4.86,4.86 0 1,0 9.72,0a4.86,4.86 0 1,0 -9.72,0M745.64,1045.5a4.86,4.86 0 1,0 9.72,0a4.86,4.86 0 1,0 -9.72,0M748.64,1023.5a4.86,4.86 0 1,0 9.72,0a4.86,4.86 0 1,0 -9.72,0M750.64,1050.5a4.86,4.86 0 1,0 9.72,0a4.86,4.86 0 1,0 -9.72,0M752.64,991.5a4.86,4.86 0 1,0 9.72,0a4.86,4.86 0 1,0 -9.72,0M755.64,1059.5a4.86,4.86 0 1,0 9.72,0a4.86,4.86 0 1,0 -9.72,0M757.64,973.5a4.86,4.86 0 1,0 9.72,0a4.86,4.86 0 1,0 -9.72,0M760.64,991.5a4.86,4.86 0 1,0 9.72,0a4.86,4.86 0 1,0 -9.72,0M762.64,1036.5a4.86,4.86 0 1,0 9.72,0a4.86,4.86 0 1,0 -9.72,0M765.64,945.5a4.86,4.86 0 1,0 9.72,0a4.86,4.86 0 1,0 -9.72,0M768.64,1032.5a4.86,4.86 0 1,0 9.72,0a4.86,4.86 0 1,0 -9.72,0M771.64,1023.5a4.86,4.86 0 1,0 9.72,0a4.86,4.86 0 1,0 -9.72,0M773.64,1068.5a4.86,4.86 0 1,0 9.72,0a4.86,4.86 0 1,0 -9.72,0M775.64,986.5a4.86,4.86 0 1,0 9.72,0a4.86,4.86 0 1,0 -9.72,0M777.64,932.5a4.86,4.86 0 1,0 9.72,0a4.86,4.86 0 1,0 -9.72,0M780.64,900.5a4.86,4.86 0 1,0 9.72,0a4.86,4.86 0 1,0 -9.72,0" fill="#ff7f0e"/>
</g>
<line x1="714" y1="1144.9" x2="714" y2="592.5" stroke="rgba(31,119,180,0.55)" stroke-width="2.08" stroke-dasharray="7.708 3.333" clip-path="url(#cb)"/>
<rect x="69.5" y="15.5" width="716.0" height="553.0" fill="none" stroke="#000" stroke-width="1.11" stroke-linejoin="miter"/>
<rect x="69.5" y="592.5" width="716.0" height="553.0" fill="none" stroke="#000" stroke-width="1.11" stroke-linejoin="miter"/>
<path d="M64.64,568.5H69.5M64.64,492.5H69.5M64.64,415.5H69.5M64.64,338.5H69.5M64.64,261.5H69.5M64.64,184.5H69.5M64.64,108.5H69.5M64.64,31.5H69.5M139.5,568.5V573.36M215.5,568.5V573.36M293.5,568.5V573.36M369.5,568.5V573.36M447.5,568.5V573.36M525.5,568.5V573.36M601.5,568.5V573.36M679.5,568.5V573.36M755.5,568.5V573.36M69.5,568.5V573.36M785.5,568.5V573.36M81.5,568.5V571.28M99.5,568.5V571.28M116.5,568.5V571.28M134.5,568.5V571.28M152.5,568.5V571.28M169.5,568.5V571.28M187.5,568.5V571.28M205.5,568.5V571.28M222.5,568.5V571.28M240.5,568.5V571.28M258.5,568.5V571.28M275.5,568.5V571.28M293.5,568.5V571.28M311.5,568.5V571.28M328.5,568.5V571.28M346.5,568.5V571.28M364.5,568.5V571.28M381.5,568.5V571.28M399.5,568.5V571.28M417.5,568.5V571.28M434.5,568.5V571.28M452.5,568.5V571.28M470.5,568.5V571.28M487.5,568.5V571.28M505.5,568.5V571.28M523.5,568.5V571.28M540.5,568.5V571.28M558.5,568.5V571.28M576.5,568.5V571.28M593.5,568.5V571.28M611.5,568.5V571.28M629.5,568.5V571.28M646.5,568.5V571.28M664.5,568.5V571.28M682.5,568.5V571.28M699.5,568.5V571.28M717.5,568.5V571.28M735.5,568.5V571.28M752.5,568.5V571.28M770.5,568.5V571.28M64.64,1145.5H69.5M64.64,1054.5H69.5M64.64,964.5H69.5M64.64,873.5H69.5M64.64,782.5H69.5M64.64,692.5H69.5M64.64,601.5H69.5M139.5,1145.5V1150.36M215.5,1145.5V1150.36M293.5,1145.5V1150.36M369.5,1145.5V1150.36M447.5,1145.5V1150.36M525.5,1145.5V1150.36M601.5,1145.5V1150.36M679.5,1145.5V1150.36M755.5,1145.5V1150.36M69.5,1145.5V1150.36M785.5,1145.5V1150.36M81.5,1145.5V1148.28M99.5,1145.5V1148.28M116.5,1145.5V1148.28M134.5,1145.5V1148.28M152.5,1145.5V1148.28M169.5,1145.5V1148.28M187.5,1145.5V1148.28M205.5,1145.5V1148.28M222.5,1145.5V1148.28M240.5,1145.5V1148.28M258.5,1145.5V1148.28M275.5,1145.5V1148.28M293.5,1145.5V1148.28M311.5,1145.5V1148.28M328.5,1145.5V1148.28M346.5,1145.5V1148.28M364.5,1145.5V1148.28M381.5,1145.5V1148.28M399.5,1145.5V1148.28M417.5,1145.5V1148.28M434.5,1145.5V1148.28M452.5,1145.5V1148.28M470.5,1145.5V1148.28M487.5,1145.5V1148.28M505.5,1145.5V1148.28M523.5,1145.5V1148.28M540.5,1145.5V1148.28M558.5,1145.5V1148.28M576.5,1145.5V1148.28M593.5,1145.5V1148.28M611.5,1145.5V1148.28M629.5,1145.5V1148.28M646.5,1145.5V1148.28M664.5,1145.5V1148.28M682.5,1145.5V1148.28M699.5,1145.5V1148.28M717.5,1145.5V1148.28M735.5,1145.5V1148.28M752.5,1145.5V1148.28M770.5,1145.5V1148.28" stroke="#000" stroke-width="1.11" fill="none"/>
<text x="59.0" y="572.5" font-size="14.85" text-anchor="end" textLength="8.35" lengthAdjust="spacingAndGlyphs">0</text>
<text x="59.0" y="496.5" font-size="14.85" text-anchor="end" textLength="33.4" lengthAdjust="spacingAndGlyphs">2000</text>
<text x="59.0" y="419.5" font-size="14.85" text-anchor="end" textLength="33.4" lengthAdjust="spacingAndGlyphs">4000</text>
<text x="59.0" y="342.5" font-size="14.85" text-anchor="end" textLength="33.4" lengthAdjust="spacingAndGlyphs">6000</text>
<text x="59.0" y="265.5" font-size="14.85" text-anchor="end" textLength="33.4" lengthAdjust="spacingAndGlyphs">8000</text>
<text x="59.0" y="188.5" font-size="14.85" text-anchor="end" textLength="41.76" lengthAdjust="spacingAndGlyphs">10000</text>
<text x="59.0" y="112.5" font-size="14.85" text-anchor="end" textLength="41.76" lengthAdjust="spacingAndGlyphs">12000</text>
<text x="59.0" y="35.5" font-size="14.85" text-anchor="end" textLength="41.76" lengthAdjust="spacingAndGlyphs">14000</text>
<text x="59.0" y="1149.5" font-size="14.85" text-anchor="end" textLength="8.35" lengthAdjust="spacingAndGlyphs">0</text>
<text x="59.0" y="1058.5" font-size="14.85" text-anchor="end" textLength="16.7" lengthAdjust="spacingAndGlyphs">20</text>
<text x="59.0" y="968.5" font-size="14.85" text-anchor="end" textLength="16.7" lengthAdjust="spacingAndGlyphs">40</text>
<text x="59.0" y="877.5" font-size="14.85" text-anchor="end" textLength="16.7" lengthAdjust="spacingAndGlyphs">60</text>
<text x="59.0" y="786.5" font-size="14.85" text-anchor="end" textLength="16.7" lengthAdjust="spacingAndGlyphs">80</text>
<text x="59.0" y="696.5" font-size="14.85" text-anchor="end" textLength="25.05" lengthAdjust="spacingAndGlyphs">100</text>
<text x="59.0" y="605.5" font-size="14.85" text-anchor="end" textLength="25.05" lengthAdjust="spacingAndGlyphs">120</text>
<text x="139.1" y="1165.8" font-size="14.85" text-anchor="middle" textLength="24.03" lengthAdjust="spacingAndGlyphs">Apr</text>
<text x="214.8" y="1165.8" font-size="14.85" text-anchor="middle" textLength="28.72" lengthAdjust="spacingAndGlyphs">May</text>
<text x="293.03" y="1165.8" font-size="14.85" text-anchor="middle" textLength="21.7" lengthAdjust="spacingAndGlyphs">Jun</text>
<text x="368.74" y="1165.8" font-size="14.85" text-anchor="middle" textLength="16.76" lengthAdjust="spacingAndGlyphs">Jul</text>
<text x="446.97" y="1165.8" font-size="14.85" text-anchor="middle" textLength="27.12" lengthAdjust="spacingAndGlyphs">Aug</text>
<text x="525.19" y="1165.8" font-size="14.85" text-anchor="middle" textLength="26.18" lengthAdjust="spacingAndGlyphs">Sep</text>
<text x="600.9" y="1165.8" font-size="14.85" text-anchor="middle" textLength="24.02" lengthAdjust="spacingAndGlyphs">Oct</text>
<text x="679.13" y="1165.8" font-size="14.85" text-anchor="middle" textLength="27.11" lengthAdjust="spacingAndGlyphs">Nov</text>
<text x="754.83" y="1165.8" font-size="14.85" text-anchor="middle" textLength="26.88" lengthAdjust="spacingAndGlyphs">Dec</text>
<text x="139.1" y="1181.75" font-size="14.85" text-anchor="middle" textLength="35.35" lengthAdjust="spacingAndGlyphs">2020</text>
<rect x="76.5" y="22.5" width="157.7" height="24.8" rx="2.8" ry="2.8" fill="rgba(255,255,255,0.8)" stroke="rgba(204,204,204,0.8)" stroke-width="1.11"/>
<line x1="80" y1="34" x2="110" y2="34" stroke="#1f77b4" stroke-width="2.08"/>
<text x="119.85" y="37.8" font-size="14.85" textLength="107.73" lengthAdjust="spacingAndGlyphs">daily confirmed</text>
<rect x="76.5" y="599.5" width="134.8" height="24.8" rx="2.8" ry="2.8" fill="rgba(255,255,255,0.8)" stroke="rgba(204,204,204,0.8)" stroke-width="1.11"/>
<line x1="80" y1="611" x2="110" y2="611" stroke="#1f77b4" stroke-width="2.08"/>
<text x="119.85" y="614.8" font-size="14.85" textLength="85.04" lengthAdjust="spacingAndGlyphs">daily deaths</text>
<text x="322.4" y="35.9" font-size="17.85" textLength="148.37" lengthAdjust="spacingAndGlyphs">Lithuania 28 days</text>
</svg></body></html>
